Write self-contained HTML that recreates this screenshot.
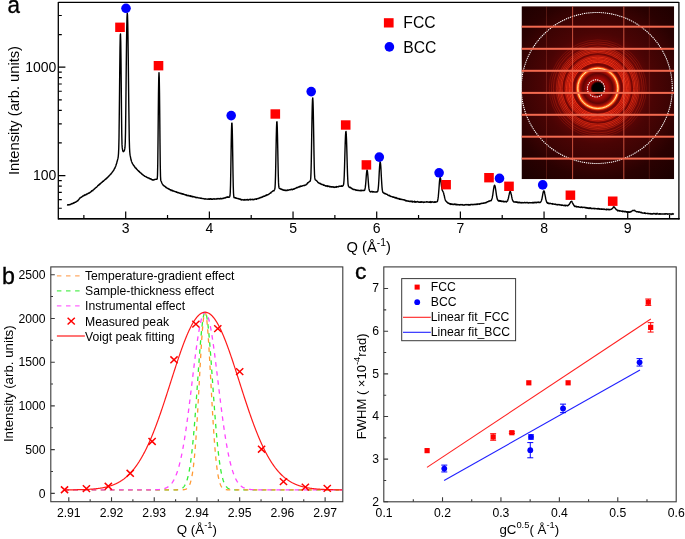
<!DOCTYPE html>
<html><head><meta charset="utf-8"><style>
html,body{margin:0;padding:0;background:#fff;overflow:hidden;width:685px;height:539px;}
svg{display:block;will-change:transform;}
</style></head><body>
<svg width="685" height="539" viewBox="0 0 685 539">
<rect width="685" height="539" fill="#fff"/>
<clipPath id="ic"><rect x="521.5" y="6.2" width="152.70000000000005" height="173.0"/></clipPath>
<radialGradient id="rg" cx="597.8" cy="88.4" r="120.0" gradientUnits="userSpaceOnUse"><stop offset="0.0000" stop-color="#000000"/><stop offset="0.0433" stop-color="#000000"/><stop offset="0.0517" stop-color="#300000"/><stop offset="0.0625" stop-color="#a00806"/><stop offset="0.0833" stop-color="#a80a06"/><stop offset="0.1042" stop-color="#840605"/><stop offset="0.1250" stop-color="#600404"/><stop offset="0.1483" stop-color="#b01208"/><stop offset="0.1583" stop-color="#ff4a10"/><stop offset="0.1675" stop-color="#fff0a0"/><stop offset="0.1758" stop-color="#ff4a10"/><stop offset="0.1858" stop-color="#900a06"/><stop offset="0.2000" stop-color="#6a0605"/><stop offset="0.2167" stop-color="#a00c08"/><stop offset="0.2750" stop-color="#900a06"/><stop offset="0.2875" stop-color="#6e0705"/><stop offset="0.3000" stop-color="#880a06"/><stop offset="0.3500" stop-color="#700806"/><stop offset="0.3917" stop-color="#5a0505"/><stop offset="0.4667" stop-color="#4a0404"/><stop offset="0.6333" stop-color="#3a0303"/><stop offset="0.7500" stop-color="#2a0101"/><stop offset="1.0000" stop-color="#1a0000"/></radialGradient>
<g clip-path="url(#ic)">
<rect x="521.5" y="6.2" width="152.70000000000005" height="173.0" fill="url(#rg)"/>
<circle cx="597.8" cy="88.4" r="26.0" fill="none" stroke="#ff3a18" stroke-opacity="0.90" stroke-width="0.9"/>
<circle cx="597.8" cy="88.4" r="27.3" fill="none" stroke="#ff3a18" stroke-opacity="0.75" stroke-width="0.9"/>
<circle cx="597.8" cy="88.4" r="28.6" fill="none" stroke="#ff3a18" stroke-opacity="0.95" stroke-width="0.9"/>
<circle cx="597.8" cy="88.4" r="30.0" fill="none" stroke="#ff3a18" stroke-opacity="0.70" stroke-width="0.9"/>
<circle cx="597.8" cy="88.4" r="31.3" fill="none" stroke="#ff3a18" stroke-opacity="0.85" stroke-width="0.9"/>
<circle cx="597.8" cy="88.4" r="32.6" fill="none" stroke="#ff3a18" stroke-opacity="0.50" stroke-width="0.9"/>
<circle cx="597.8" cy="88.4" r="35.8" fill="none" stroke="#ff3a18" stroke-opacity="0.60" stroke-width="0.9"/>
<circle cx="597.8" cy="88.4" r="37.2" fill="none" stroke="#ff3a18" stroke-opacity="0.70" stroke-width="0.9"/>
<circle cx="597.8" cy="88.4" r="38.6" fill="none" stroke="#ff3a18" stroke-opacity="0.55" stroke-width="0.9"/>
<circle cx="597.8" cy="88.4" r="40.0" fill="none" stroke="#ff3a18" stroke-opacity="0.60" stroke-width="0.9"/>
<circle cx="597.8" cy="88.4" r="41.5" fill="none" stroke="#ff3a18" stroke-opacity="0.40" stroke-width="0.9"/>
<circle cx="597.8" cy="88.4" r="44.5" fill="none" stroke="#ff3a18" stroke-opacity="0.30" stroke-width="0.9"/>
<circle cx="597.8" cy="88.4" r="46.5" fill="none" stroke="#ff3a18" stroke-opacity="0.28" stroke-width="0.9"/>
<circle cx="597.8" cy="88.4" r="48.5" fill="none" stroke="#ff3a18" stroke-opacity="0.20" stroke-width="0.9"/>
<circle cx="597.8" cy="88.4" r="20.1" fill="none" stroke="#ff6a14" stroke-width="1.8"/>
<circle cx="597.8" cy="88.4" r="20.1" fill="none" stroke="#fff2b0" stroke-width="0.9"/>
<circle cx="596" cy="88.4" r="8.6" fill="none" stroke="#fff" stroke-opacity="1" stroke-width="1.1" stroke-dasharray="1.4,0.9"/>
<circle cx="596.8" cy="88.0" r="75.5" fill="none" stroke="#fff" stroke-opacity="1" stroke-width="1.05" stroke-dasharray="1.3,0.8"/>
<rect x="521.5" y="25.7" width="152.70000000000005" height="2" fill="#f26a50"/>
<rect x="521.5" y="47.8" width="152.70000000000005" height="2" fill="#f26a50"/>
<rect x="521.5" y="69.8" width="152.70000000000005" height="2" fill="#f26a50"/>
<rect x="521.5" y="91.9" width="152.70000000000005" height="2" fill="#f26a50"/>
<rect x="521.5" y="113.8" width="152.70000000000005" height="2" fill="#f26a50"/>
<rect x="521.5" y="135.7" width="152.70000000000005" height="2" fill="#f26a50"/>
<rect x="521.5" y="157.6" width="152.70000000000005" height="2" fill="#f26a50"/>
<rect x="546.0" y="6.2" width="1" height="173.0" fill="#f26a50" fill-opacity="0.22"/>
<rect x="572.1" y="6.2" width="1" height="173.0" fill="#f26a50" fill-opacity="0.75"/>
<rect x="623.3" y="6.2" width="1" height="173.0" fill="#f26a50" fill-opacity="0.75"/>
<rect x="648.8" y="6.2" width="1" height="173.0" fill="#f26a50" fill-opacity="0.2"/>
</g>
<path d="M67.00,204.96 L67.25,205.01 L67.50,204.90 L67.75,204.77 L68.00,204.83 L68.25,204.71 L68.50,204.87 L68.75,205.06 L69.00,204.69 L69.25,204.62 L69.50,204.77 L69.75,204.69 L70.00,204.58 L70.25,204.33 L70.50,204.42 L70.75,204.48 L71.00,204.03 L71.25,204.11 L71.50,203.76 L71.75,203.78 L72.00,203.58 L72.25,203.77 L72.50,203.48 L72.75,203.65 L73.00,203.51 L73.25,203.34 L73.50,202.80 L73.75,203.03 L74.00,202.99 L74.25,202.89 L74.50,202.46 L74.75,202.51 L75.00,202.28 L75.25,202.17 L75.50,202.36 L75.75,201.88 L76.00,201.86 L76.25,201.88 L76.50,201.45 L76.75,201.38 L77.00,201.26 L77.25,201.09 L77.50,200.69 L77.75,200.74 L78.00,200.71 L78.25,199.86 L78.50,199.94 L78.75,199.44 L79.00,198.94 L79.25,199.10 L79.50,198.62 L79.75,198.06 L80.00,198.08 L80.25,197.97 L80.50,197.64 L80.75,197.61 L81.00,197.30 L81.25,197.26 L81.50,197.23 L81.75,196.68 L82.00,196.68 L82.25,196.41 L82.50,196.37 L82.75,195.99 L83.00,195.95 L83.25,195.89 L83.50,195.95 L83.75,195.86 L84.00,195.29 L84.25,195.26 L84.50,195.39 L84.75,194.79 L85.00,194.94 L85.25,194.89 L85.50,195.01 L85.75,194.79 L86.00,194.49 L86.25,194.36 L86.50,194.26 L86.75,194.46 L87.00,193.98 L87.25,193.88 L87.50,193.88 L87.75,193.66 L88.00,193.52 L88.25,193.22 L88.50,193.28 L88.75,193.07 L89.00,193.22 L89.25,192.98 L89.50,192.70 L89.75,192.67 L90.00,192.33 L90.25,192.42 L90.50,192.06 L90.75,191.99 L91.00,191.48 L91.25,191.59 L91.50,191.04 L91.75,190.78 L92.00,190.90 L92.25,190.60 L92.50,190.59 L92.75,190.76 L93.00,190.01 L93.25,189.84 L93.50,189.78 L93.75,189.62 L94.00,189.28 L94.25,189.06 L94.50,189.01 L94.75,188.76 L95.00,188.26 L95.25,188.21 L95.50,188.00 L95.75,187.58 L96.00,187.59 L96.25,187.16 L96.50,187.27 L96.75,186.90 L97.00,186.65 L97.25,186.30 L97.50,186.15 L97.75,185.59 L98.00,185.51 L98.25,185.55 L98.50,184.88 L98.75,185.18 L99.00,184.49 L99.25,184.71 L99.50,184.20 L99.75,184.27 L100.00,183.93 L100.25,183.41 L100.50,183.69 L100.75,183.50 L101.00,183.01 L101.25,182.76 L101.50,182.57 L101.75,182.21 L102.00,182.38 L102.25,181.87 L102.50,181.76 L102.75,181.42 L103.00,181.24 L103.25,180.92 L103.50,181.18 L103.75,180.72 L104.00,180.72 L104.25,180.34 L104.50,180.01 L104.75,179.87 L105.00,179.62 L105.25,179.51 L105.50,179.23 L105.75,179.03 L106.00,178.62 L106.25,178.51 L106.50,178.73 L106.75,178.09 L107.00,177.79 L107.25,177.81 L107.50,177.77 L107.75,177.01 L108.00,177.00 L108.25,176.67 L108.50,176.21 L108.75,176.40 L109.00,176.00 L109.25,175.75 L109.50,175.33 L109.75,175.28 L110.00,174.82 L110.25,174.62 L110.50,174.17 L110.75,173.86 L111.00,174.03 L111.25,173.41 L111.50,173.25 L111.75,172.88 L112.00,172.49 L112.25,172.15 L112.50,172.01 L112.75,171.49 L113.00,171.15 L113.25,170.81 L113.50,170.62 L113.75,170.12 L114.00,169.64 L114.25,169.03 L114.50,168.42 L114.75,168.36 L115.00,167.85 L115.25,167.09 L115.50,166.61 L115.75,166.00 L116.00,165.32 L116.25,164.60 L116.50,163.56 L116.75,163.08 L117.00,161.70 L117.25,161.15 L117.50,160.10 L117.75,159.14 L118.00,158.15 L118.25,156.52 L118.50,153.61 L118.75,148.21 L119.00,137.73 L119.25,117.56 L119.50,95.00 L119.75,69.63 L120.00,48.17 L120.25,35.68 L120.50,33.86 L120.75,42.02 L121.00,59.95 L121.25,85.44 L121.50,112.65 L121.75,133.42 L122.00,144.13 L122.25,147.90 L122.50,149.41 L122.75,150.76 L123.00,151.31 L123.25,151.75 L123.50,151.55 L123.75,151.45 L124.00,151.06 L124.25,150.60 L124.50,150.14 L124.75,148.95 L125.00,147.19 L125.25,142.62 L125.50,132.81 L125.75,114.43 L126.00,91.34 L126.25,66.63 L126.50,44.96 L126.75,27.98 L127.00,17.39 L127.25,13.20 L127.50,15.12 L127.75,23.61 L128.00,38.02 L128.25,57.87 L128.50,80.44 L128.75,102.40 L129.00,120.04 L129.25,138.28 L129.50,147.19 L129.75,151.95 L130.00,154.54 L130.25,155.93 L130.50,157.10 L130.75,158.35 L131.00,159.78 L131.25,160.53 L131.50,161.29 L131.75,161.93 L132.00,162.53 L132.25,163.20 L132.50,163.65 L132.75,164.05 L133.00,164.25 L133.25,164.93 L133.50,165.09 L133.75,165.76 L134.00,165.67 L134.25,166.20 L134.50,166.54 L134.75,166.62 L135.00,167.48 L135.25,167.74 L135.50,167.70 L135.75,168.22 L136.00,168.44 L136.25,168.19 L136.50,168.98 L136.75,169.19 L137.00,169.48 L137.25,169.53 L137.50,169.93 L137.75,170.20 L138.00,170.68 L138.25,170.77 L138.50,170.94 L138.75,171.45 L139.00,171.31 L139.25,171.56 L139.50,171.53 L139.75,172.36 L140.00,172.48 L140.25,172.69 L140.50,172.86 L140.75,172.98 L141.00,173.22 L141.25,173.36 L141.50,173.59 L141.75,173.85 L142.00,174.33 L142.25,174.37 L142.50,174.47 L142.75,174.59 L143.00,174.78 L143.25,175.38 L143.50,175.38 L143.75,175.49 L144.00,175.59 L144.25,175.63 L144.50,175.99 L144.75,176.31 L145.00,176.24 L145.25,176.41 L145.50,176.55 L145.75,176.74 L146.00,176.57 L146.25,176.94 L146.50,176.95 L146.75,177.38 L147.00,177.19 L147.25,177.55 L147.50,177.83 L147.75,177.61 L148.00,177.66 L148.25,177.91 L148.50,177.98 L148.75,177.90 L149.00,178.27 L149.25,178.65 L149.50,178.35 L149.75,178.47 L150.00,178.44 L150.25,178.81 L150.50,178.65 L150.75,178.80 L151.00,179.35 L151.25,179.08 L151.50,179.55 L151.75,179.74 L152.00,179.61 L152.25,179.76 L152.50,180.08 L152.75,179.76 L153.00,179.74 L153.25,179.63 L153.50,179.89 L153.75,180.14 L154.00,180.00 L154.25,179.59 L154.50,179.53 L154.75,179.50 L155.00,179.55 L155.25,179.37 L155.50,179.37 L155.75,179.32 L156.00,179.18 L156.25,179.21 L156.50,179.26 L156.75,179.21 L157.00,179.23 L157.25,178.77 L157.50,175.20 L157.75,164.38 L158.00,142.82 L158.25,116.68 L158.50,92.84 L158.75,77.55 L159.00,72.58 L159.25,77.66 L159.50,92.67 L159.75,115.72 L160.00,142.70 L160.25,164.51 L160.50,176.12 L160.75,180.21 L161.00,181.01 L161.25,181.48 L161.50,182.02 L161.75,182.83 L162.00,183.37 L162.25,183.64 L162.50,184.20 L162.75,184.29 L163.00,184.99 L163.25,185.25 L163.50,185.51 L163.75,185.48 L164.00,185.89 L164.25,185.99 L164.50,186.15 L164.75,186.36 L165.00,186.38 L165.25,186.55 L165.50,187.13 L165.75,187.14 L166.00,187.38 L166.25,187.70 L166.50,187.37 L166.75,187.70 L167.00,188.03 L167.25,188.23 L167.50,188.24 L167.75,188.64 L168.00,188.63 L168.25,188.52 L168.50,188.70 L168.75,189.15 L169.00,189.22 L169.25,188.92 L169.50,189.63 L169.75,189.62 L170.00,189.87 L170.25,189.67 L170.50,189.80 L170.75,189.77 L171.00,190.54 L171.25,190.16 L171.50,190.58 L171.75,190.28 L172.00,190.53 L172.25,190.30 L172.50,190.63 L172.75,190.98 L173.00,190.67 L173.25,191.18 L173.50,191.14 L173.75,190.99 L174.00,191.18 L174.25,191.27 L174.50,191.44 L174.75,191.43 L175.00,191.47 L175.25,191.65 L175.50,191.60 L175.75,191.64 L176.00,191.94 L176.25,192.19 L176.50,191.84 L176.75,192.20 L177.00,192.16 L177.25,192.18 L177.50,192.59 L177.75,192.42 L178.00,192.86 L178.25,192.53 L178.50,192.81 L178.75,192.78 L179.00,192.76 L179.25,193.08 L179.50,193.02 L179.75,193.24 L180.00,193.20 L180.25,193.09 L180.50,193.34 L180.75,193.44 L181.00,193.68 L181.25,193.42 L181.50,193.66 L181.75,193.43 L182.00,193.93 L182.25,193.70 L182.50,193.64 L182.75,194.03 L183.00,194.32 L183.25,193.92 L183.50,194.07 L183.75,194.21 L184.00,194.21 L184.25,194.56 L184.50,194.42 L184.75,194.50 L185.00,194.81 L185.25,194.64 L185.50,194.93 L185.75,194.75 L186.00,194.78 L186.25,194.74 L186.50,195.47 L186.75,195.15 L187.00,195.32 L187.25,195.34 L187.50,195.44 L187.75,195.49 L188.00,195.89 L188.25,195.43 L188.50,195.40 L188.75,195.56 L189.00,195.57 L189.25,196.01 L189.50,196.09 L189.75,195.83 L190.00,195.81 L190.25,196.06 L190.50,196.44 L190.75,195.74 L191.00,196.40 L191.25,196.17 L191.50,196.61 L191.75,196.29 L192.00,196.49 L192.25,196.32 L192.50,196.47 L192.75,196.95 L193.00,196.90 L193.25,196.74 L193.50,196.70 L193.75,196.57 L194.00,196.89 L194.25,197.00 L194.50,197.04 L194.75,197.09 L195.00,196.96 L195.25,197.20 L195.50,197.25 L195.75,197.54 L196.00,197.70 L196.25,197.39 L196.50,197.33 L196.75,197.51 L197.00,197.46 L197.25,197.49 L197.50,197.66 L197.75,197.54 L198.00,197.89 L198.25,197.81 L198.50,197.93 L198.75,197.90 L199.00,197.85 L199.25,197.86 L199.50,198.04 L199.75,198.03 L200.00,198.22 L200.25,198.23 L200.50,198.03 L200.75,198.34 L201.00,198.13 L201.25,198.30 L201.50,198.40 L201.75,198.13 L202.00,198.56 L202.25,198.61 L202.50,198.60 L202.75,198.59 L203.00,198.63 L203.25,198.56 L203.50,198.72 L203.75,198.70 L204.00,198.85 L204.25,198.65 L204.50,198.94 L204.75,198.95 L205.00,198.92 L205.25,198.89 L205.50,199.09 L205.75,198.71 L206.00,199.11 L206.25,199.09 L206.50,199.11 L206.75,199.14 L207.00,198.97 L207.25,199.05 L207.50,199.21 L207.75,199.18 L208.00,199.14 L208.25,198.83 L208.50,199.20 L208.75,199.31 L209.00,199.28 L209.25,199.14 L209.50,198.82 L209.75,199.26 L210.00,199.06 L210.25,198.63 L210.50,199.15 L210.75,198.81 L211.00,198.84 L211.25,198.96 L211.50,199.30 L211.75,198.99 L212.00,199.10 L212.25,199.36 L212.50,199.33 L212.75,199.02 L213.00,198.99 L213.25,198.80 L213.50,198.89 L213.75,199.08 L214.00,199.07 L214.25,199.01 L214.50,199.16 L214.75,198.84 L215.00,198.96 L215.25,199.09 L215.50,199.05 L215.75,199.13 L216.00,199.00 L216.25,198.86 L216.50,198.97 L216.75,198.71 L217.00,198.59 L217.25,198.98 L217.50,198.85 L217.75,198.90 L218.00,198.53 L218.25,198.76 L218.50,198.70 L218.75,198.64 L219.00,198.38 L219.25,198.71 L219.50,198.92 L219.75,198.82 L220.00,198.62 L220.25,198.72 L220.50,198.84 L220.75,198.18 L221.00,198.63 L221.25,198.72 L221.50,198.71 L221.75,198.85 L222.00,198.70 L222.25,198.50 L222.50,198.44 L222.75,198.47 L223.00,198.18 L223.25,198.20 L223.50,198.31 L223.75,198.43 L224.00,197.99 L224.25,197.94 L224.50,197.92 L224.75,198.05 L225.00,197.74 L225.25,197.94 L225.50,197.44 L225.75,197.51 L226.00,197.45 L226.25,197.56 L226.50,197.55 L226.75,197.03 L227.00,197.09 L227.25,197.26 L227.50,197.04 L227.75,196.84 L228.00,197.27 L228.25,197.14 L228.50,197.11 L228.75,196.92 L229.00,197.17 L229.25,196.93 L229.50,197.11 L229.75,196.49 L230.00,195.51 L230.25,192.69 L230.50,185.43 L230.75,173.31 L231.00,157.34 L231.25,141.52 L231.50,129.70 L231.75,123.15 L232.00,123.25 L232.25,129.22 L232.50,141.10 L232.75,156.98 L233.00,173.22 L233.25,185.89 L233.50,192.98 L233.75,196.24 L234.00,197.59 L234.25,197.62 L234.50,197.57 L234.75,197.83 L235.00,197.94 L235.25,197.76 L235.50,197.67 L235.75,197.76 L236.00,198.20 L236.25,198.01 L236.50,198.18 L236.75,198.31 L237.00,198.45 L237.25,198.34 L237.50,198.56 L237.75,198.38 L238.00,198.54 L238.25,198.49 L238.50,198.95 L238.75,198.81 L239.00,198.75 L239.25,198.89 L239.50,198.98 L239.75,199.21 L240.00,198.86 L240.25,199.02 L240.50,199.21 L240.75,199.79 L241.00,199.56 L241.25,199.43 L241.50,199.63 L241.75,199.92 L242.00,199.56 L242.25,199.58 L242.50,199.90 L242.75,199.81 L243.00,199.88 L243.25,199.70 L243.50,200.16 L243.75,200.15 L244.00,199.96 L244.25,200.00 L244.50,199.52 L244.75,200.00 L245.00,199.85 L245.25,199.96 L245.50,200.00 L245.75,199.82 L246.00,199.57 L246.25,199.93 L246.50,199.73 L246.75,199.80 L247.00,199.74 L247.25,199.78 L247.50,199.41 L247.75,200.04 L248.00,199.86 L248.25,200.00 L248.50,200.14 L248.75,199.78 L249.00,199.43 L249.25,199.58 L249.50,199.51 L249.75,199.62 L250.00,199.71 L250.25,199.32 L250.50,199.73 L250.75,199.38 L251.00,199.68 L251.25,199.59 L251.50,199.53 L251.75,199.56 L252.00,199.45 L252.25,199.42 L252.50,199.21 L252.75,199.48 L253.00,199.80 L253.25,199.80 L253.50,199.66 L253.75,199.53 L254.00,199.25 L254.25,199.60 L254.50,199.29 L254.75,199.25 L255.00,199.17 L255.25,199.19 L255.50,199.05 L255.75,199.06 L256.00,198.82 L256.25,198.89 L256.50,199.30 L256.75,198.81 L257.00,198.71 L257.25,198.78 L257.50,198.74 L257.75,198.34 L258.00,198.42 L258.25,198.55 L258.50,198.35 L258.75,198.24 L259.00,198.42 L259.25,197.93 L259.50,197.98 L259.75,197.79 L260.00,198.06 L260.25,197.35 L260.50,197.50 L260.75,197.43 L261.00,197.56 L261.25,197.46 L261.50,197.51 L261.75,196.89 L262.00,197.22 L262.25,196.94 L262.50,196.79 L262.75,196.92 L263.00,196.57 L263.25,196.26 L263.50,196.48 L263.75,196.18 L264.00,196.24 L264.25,196.32 L264.50,196.21 L264.75,196.34 L265.00,195.91 L265.25,195.56 L265.50,195.60 L265.75,195.46 L266.00,195.29 L266.25,195.48 L266.50,195.16 L266.75,194.81 L267.00,195.17 L267.25,194.90 L267.50,194.86 L267.75,194.69 L268.00,194.65 L268.25,194.41 L268.50,194.50 L268.75,194.21 L269.00,194.07 L269.25,193.93 L269.50,193.45 L269.75,193.52 L270.00,193.32 L270.25,193.22 L270.50,192.74 L270.75,193.08 L271.00,192.60 L271.25,192.15 L271.50,191.85 L271.75,191.89 L272.00,191.72 L272.25,191.40 L272.50,191.35 L272.75,191.03 L273.00,191.07 L273.25,190.68 L273.50,190.65 L273.75,190.70 L274.00,190.85 L274.25,190.04 L274.50,189.87 L274.75,189.19 L275.00,187.87 L275.25,183.70 L275.50,176.34 L275.75,164.97 L276.00,151.10 L276.25,138.00 L276.50,127.99 L276.75,122.10 L277.00,121.78 L277.25,126.73 L277.50,136.22 L277.75,148.80 L278.00,162.11 L278.25,174.06 L278.50,182.14 L278.75,186.17 L279.00,187.73 L279.25,188.16 L279.50,188.62 L279.75,188.48 L280.00,188.43 L280.25,188.57 L280.50,189.05 L280.75,188.91 L281.00,189.17 L281.25,188.98 L281.50,189.33 L281.75,189.16 L282.00,189.35 L282.25,189.94 L282.50,189.73 L282.75,189.61 L283.00,189.79 L283.25,189.96 L283.50,190.20 L283.75,189.98 L284.00,189.82 L284.25,190.14 L284.50,190.24 L284.75,190.29 L285.00,190.52 L285.25,190.34 L285.50,190.43 L285.75,190.08 L286.00,190.42 L286.25,190.63 L286.50,190.38 L286.75,190.26 L287.00,190.22 L287.25,190.49 L287.50,189.98 L287.75,190.10 L288.00,190.17 L288.25,190.19 L288.50,189.94 L288.75,190.04 L289.00,189.90 L289.25,189.93 L289.50,189.84 L289.75,189.62 L290.00,189.78 L290.25,189.90 L290.50,189.52 L290.75,189.60 L291.00,189.72 L291.25,189.36 L291.50,189.54 L291.75,189.27 L292.00,189.62 L292.25,189.78 L292.50,189.68 L292.75,189.22 L293.00,189.32 L293.25,189.14 L293.50,189.06 L293.75,189.25 L294.00,188.65 L294.25,188.99 L294.50,188.70 L294.75,188.87 L295.00,188.55 L295.25,188.30 L295.50,188.37 L295.75,188.35 L296.00,188.12 L296.25,188.09 L296.50,187.80 L296.75,187.41 L297.00,187.85 L297.25,187.70 L297.50,187.50 L297.75,187.38 L298.00,187.45 L298.25,187.08 L298.50,186.94 L298.75,186.93 L299.00,187.08 L299.25,186.53 L299.50,186.90 L299.75,186.49 L300.00,186.32 L300.25,186.67 L300.50,186.35 L300.75,186.07 L301.00,186.17 L301.25,186.34 L301.50,186.32 L301.75,185.97 L302.00,186.06 L302.25,186.06 L302.50,185.76 L302.75,185.88 L303.00,185.74 L303.25,185.59 L303.50,185.53 L303.75,185.56 L304.00,185.48 L304.25,185.29 L304.50,185.24 L304.75,185.42 L305.00,185.17 L305.25,185.18 L305.50,185.13 L305.75,184.87 L306.00,185.00 L306.25,184.25 L306.50,184.34 L306.75,183.91 L307.00,184.06 L307.25,183.79 L307.50,182.89 L307.75,182.82 L308.00,182.87 L308.25,182.65 L308.50,182.42 L308.75,182.06 L309.00,181.96 L309.25,181.83 L309.50,181.55 L309.75,181.62 L310.00,180.85 L310.25,181.04 L310.50,179.90 L310.75,178.03 L311.00,172.65 L311.25,162.91 L311.50,149.17 L311.75,132.97 L312.00,118.02 L312.25,106.26 L312.50,99.54 L312.75,97.89 L313.00,101.61 L313.25,110.11 L313.50,123.28 L313.75,138.60 L314.00,154.00 L314.25,166.45 L314.50,174.20 L314.75,177.66 L315.00,179.11 L315.25,179.64 L315.50,179.90 L315.75,179.88 L316.00,180.41 L316.25,180.35 L316.50,180.73 L316.75,180.74 L317.00,181.21 L317.25,181.48 L317.50,181.61 L317.75,182.32 L318.00,182.29 L318.25,182.80 L318.50,182.89 L318.75,182.81 L319.00,183.05 L319.25,183.35 L319.50,183.42 L319.75,183.54 L320.00,183.60 L320.25,183.45 L320.50,183.85 L320.75,183.61 L321.00,184.19 L321.25,184.10 L321.50,184.21 L321.75,184.41 L322.00,184.60 L322.25,184.39 L322.50,184.43 L322.75,184.65 L323.00,184.56 L323.25,184.84 L323.50,185.39 L323.75,185.00 L324.00,185.38 L324.25,185.10 L324.50,185.47 L324.75,185.43 L325.00,185.55 L325.25,185.73 L325.50,186.00 L325.75,185.78 L326.00,185.83 L326.25,185.68 L326.50,186.02 L326.75,185.92 L327.00,186.17 L327.25,186.06 L327.50,186.43 L327.75,185.82 L328.00,186.17 L328.25,186.43 L328.50,186.26 L328.75,186.23 L329.00,186.38 L329.25,186.22 L329.50,186.54 L329.75,187.00 L330.00,186.82 L330.25,186.45 L330.50,186.54 L330.75,186.66 L331.00,186.96 L331.25,186.67 L331.50,186.73 L331.75,187.04 L332.00,187.07 L332.25,186.88 L332.50,186.77 L332.75,186.72 L333.00,186.90 L333.25,186.64 L333.50,187.20 L333.75,186.97 L334.00,187.18 L334.25,187.44 L334.50,187.32 L334.75,186.91 L335.00,187.27 L335.25,187.32 L335.50,186.97 L335.75,186.91 L336.00,187.04 L336.25,186.74 L336.50,187.26 L336.75,186.53 L337.00,186.72 L337.25,186.82 L337.50,186.78 L337.75,186.80 L338.00,186.76 L338.25,186.62 L338.50,186.80 L338.75,186.16 L339.00,186.48 L339.25,186.29 L339.50,186.39 L339.75,186.35 L340.00,186.09 L340.25,186.08 L340.50,186.29 L340.75,186.16 L341.00,185.93 L341.25,186.38 L341.50,186.39 L341.75,185.68 L342.00,185.97 L342.25,186.34 L342.50,186.01 L342.75,185.87 L343.00,185.70 L343.25,185.39 L343.50,184.80 L343.75,183.27 L344.00,180.60 L344.25,175.44 L344.50,168.25 L344.75,159.30 L345.00,150.26 L345.25,141.76 L345.50,135.52 L345.75,132.09 L346.00,131.39 L346.25,133.97 L346.50,139.39 L346.75,147.11 L347.00,156.22 L347.25,165.45 L347.50,173.69 L347.75,179.33 L348.00,183.53 L348.25,185.35 L348.50,186.21 L348.75,186.72 L349.00,186.90 L349.25,187.17 L349.50,187.13 L349.75,187.58 L350.00,187.36 L350.25,187.22 L350.50,187.64 L350.75,187.56 L351.00,188.07 L351.25,188.41 L351.50,188.48 L351.75,188.26 L352.00,188.50 L352.25,189.07 L352.50,188.91 L352.75,188.94 L353.00,189.22 L353.25,189.56 L353.50,189.44 L353.75,189.32 L354.00,189.44 L354.25,189.57 L354.50,189.44 L354.75,189.44 L355.00,189.72 L355.25,189.62 L355.50,189.86 L355.75,189.97 L356.00,190.44 L356.25,189.94 L356.50,190.14 L356.75,190.19 L357.00,190.36 L357.25,190.53 L357.50,190.30 L357.75,190.29 L358.00,190.18 L358.25,190.35 L358.50,190.64 L358.75,190.58 L359.00,190.41 L359.25,190.54 L359.50,190.61 L359.75,190.70 L360.00,190.50 L360.25,190.56 L360.50,190.28 L360.75,190.40 L361.00,190.90 L361.25,190.22 L361.50,190.55 L361.75,190.65 L362.00,190.54 L362.25,190.46 L362.50,190.60 L362.75,190.61 L363.00,190.59 L363.25,190.27 L363.50,190.57 L363.75,190.43 L364.00,190.44 L364.25,190.47 L364.50,190.31 L364.75,189.89 L365.00,188.80 L365.25,187.68 L365.50,185.69 L365.75,182.98 L366.00,179.86 L366.25,176.30 L366.50,173.35 L366.75,171.37 L367.00,169.92 L367.25,170.42 L367.50,171.76 L367.75,174.30 L368.00,177.25 L368.25,180.81 L368.50,184.16 L368.75,186.97 L369.00,188.94 L369.25,190.05 L369.50,190.81 L369.75,191.13 L370.00,191.58 L370.25,191.57 L370.50,191.78 L370.75,192.01 L371.00,191.71 L371.25,191.46 L371.50,191.59 L371.75,191.50 L372.00,191.55 L372.25,192.02 L372.50,191.83 L372.75,191.53 L373.00,191.93 L373.25,192.04 L373.50,191.76 L373.75,191.71 L374.00,191.78 L374.25,191.90 L374.50,191.97 L374.75,192.08 L375.00,192.10 L375.25,192.10 L375.50,192.14 L375.75,192.03 L376.00,191.65 L376.25,191.91 L376.50,192.00 L376.75,191.87 L377.00,192.07 L377.25,191.74 L377.50,191.39 L377.75,191.27 L378.00,190.10 L378.25,188.24 L378.50,185.65 L378.75,181.96 L379.00,177.36 L379.25,172.11 L379.50,167.99 L379.75,164.51 L380.00,162.26 L380.25,161.96 L380.50,163.34 L380.75,165.81 L381.00,169.68 L381.25,174.95 L381.50,179.29 L381.75,183.46 L382.00,187.15 L382.25,189.62 L382.50,190.97 L382.75,192.13 L383.00,192.39 L383.25,192.57 L383.50,192.91 L383.75,193.12 L384.00,192.96 L384.25,193.22 L384.50,193.23 L384.75,193.85 L385.00,193.32 L385.25,193.80 L385.50,193.65 L385.75,193.76 L386.00,194.03 L386.25,194.18 L386.50,194.38 L386.75,194.33 L387.00,194.30 L387.25,194.44 L387.50,194.76 L387.75,194.91 L388.00,195.19 L388.25,195.15 L388.50,195.39 L388.75,195.60 L389.00,195.49 L389.25,195.32 L389.50,195.50 L389.75,195.57 L390.00,196.23 L390.25,195.90 L390.50,196.38 L390.75,196.36 L391.00,196.66 L391.25,196.62 L391.50,196.51 L391.75,196.58 L392.00,196.71 L392.25,196.81 L392.50,196.77 L392.75,196.94 L393.00,197.32 L393.25,196.80 L393.50,197.23 L393.75,197.10 L394.00,197.37 L394.25,197.57 L394.50,197.48 L394.75,197.70 L395.00,197.35 L395.25,197.91 L395.50,197.68 L395.75,197.97 L396.00,197.96 L396.25,197.53 L396.50,197.93 L396.75,198.17 L397.00,198.48 L397.25,198.32 L397.50,198.39 L397.75,198.15 L398.00,198.73 L398.25,198.87 L398.50,198.61 L398.75,198.63 L399.00,198.45 L399.25,198.96 L399.50,199.35 L399.75,199.06 L400.00,199.23 L400.25,199.16 L400.50,198.95 L400.75,199.43 L401.00,199.03 L401.25,199.28 L401.50,199.44 L401.75,199.61 L402.00,199.59 L402.25,199.66 L402.50,199.52 L402.75,199.49 L403.00,199.81 L403.25,199.74 L403.50,199.70 L403.75,199.78 L404.00,200.00 L404.25,199.82 L404.50,199.99 L404.75,200.01 L405.00,200.41 L405.25,200.52 L405.50,200.87 L405.75,200.31 L406.00,200.53 L406.25,200.88 L406.50,200.74 L406.75,200.78 L407.00,201.21 L407.25,200.90 L407.50,200.81 L407.75,200.83 L408.00,201.18 L408.25,201.22 L408.50,200.97 L408.75,201.08 L409.00,201.39 L409.25,201.43 L409.50,201.24 L409.75,201.50 L410.00,201.51 L410.25,201.11 L410.50,201.39 L410.75,201.54 L411.00,201.39 L411.25,201.12 L411.50,201.48 L411.75,201.68 L412.00,201.85 L412.25,201.19 L412.50,202.07 L412.75,201.42 L413.00,201.81 L413.25,201.88 L413.50,201.85 L413.75,201.72 L414.00,201.50 L414.25,201.84 L414.50,201.61 L414.75,201.30 L415.00,202.28 L415.25,201.91 L415.50,202.13 L415.75,201.65 L416.00,202.09 L416.25,202.13 L416.50,202.13 L416.75,201.86 L417.00,201.66 L417.25,201.86 L417.50,201.51 L417.75,201.61 L418.00,201.94 L418.25,201.76 L418.50,201.92 L418.75,201.94 L419.00,202.31 L419.25,202.21 L419.50,201.98 L419.75,202.21 L420.00,201.86 L420.25,201.95 L420.50,202.18 L420.75,201.80 L421.00,201.98 L421.25,201.80 L421.50,202.06 L421.75,202.34 L422.00,201.91 L422.25,202.09 L422.50,201.89 L422.75,201.85 L423.00,201.84 L423.25,202.32 L423.50,202.49 L423.75,202.15 L424.00,201.93 L424.25,202.19 L424.50,202.00 L424.75,202.21 L425.00,202.12 L425.25,202.11 L425.50,202.17 L425.75,201.96 L426.00,201.99 L426.25,201.75 L426.50,201.98 L426.75,201.81 L427.00,202.04 L427.25,201.89 L427.50,202.08 L427.75,202.14 L428.00,201.81 L428.25,201.92 L428.50,201.89 L428.75,202.20 L429.00,202.37 L429.25,202.22 L429.50,202.00 L429.75,202.33 L430.00,201.79 L430.25,202.33 L430.50,201.95 L430.75,201.56 L431.00,202.54 L431.25,202.35 L431.50,201.88 L431.75,202.09 L432.00,202.02 L432.25,202.08 L432.50,201.80 L432.75,201.94 L433.00,202.15 L433.25,202.10 L433.50,202.28 L433.75,202.08 L434.00,202.49 L434.25,201.93 L434.50,202.11 L434.75,201.72 L435.00,201.84 L435.25,202.30 L435.50,201.89 L435.75,202.16 L436.00,202.05 L436.25,201.86 L436.50,201.95 L436.75,201.86 L437.00,201.73 L437.25,201.68 L437.50,201.16 L437.75,200.08 L438.00,198.66 L438.25,196.91 L438.50,194.24 L438.75,191.32 L439.00,188.20 L439.25,184.51 L439.50,181.40 L439.75,179.14 L440.00,177.72 L440.25,177.45 L440.50,178.14 L440.75,179.77 L441.00,181.81 L441.25,184.26 L441.50,186.16 L441.75,187.93 L442.00,189.01 L442.25,190.36 L442.50,190.69 L442.75,191.33 L443.00,191.59 L443.25,192.26 L443.50,192.67 L443.75,193.72 L444.00,195.09 L444.25,195.47 L444.50,196.99 L444.75,198.13 L445.00,198.85 L445.25,199.73 L445.50,200.50 L445.75,200.68 L446.00,201.28 L446.25,201.37 L446.50,201.66 L446.75,201.89 L447.00,202.17 L447.25,202.39 L447.50,202.61 L447.75,202.43 L448.00,203.21 L448.25,203.21 L448.50,203.29 L448.75,203.24 L449.00,203.43 L449.25,203.67 L449.50,203.76 L449.75,203.47 L450.00,203.99 L450.25,204.45 L450.50,203.60 L450.75,204.15 L451.00,204.07 L451.25,204.01 L451.50,204.31 L451.75,203.87 L452.00,204.14 L452.25,204.41 L452.50,204.13 L452.75,204.11 L453.00,204.24 L453.25,204.16 L453.50,204.55 L453.75,204.12 L454.00,204.48 L454.25,204.11 L454.50,204.48 L454.75,204.36 L455.00,203.93 L455.25,204.42 L455.50,204.25 L455.75,204.38 L456.00,204.77 L456.25,204.30 L456.50,204.33 L456.75,204.81 L457.00,204.58 L457.25,204.86 L457.50,204.65 L457.75,204.44 L458.00,204.61 L458.25,204.87 L458.50,204.83 L458.75,204.67 L459.00,204.69 L459.25,204.67 L459.50,204.60 L459.75,205.08 L460.00,204.73 L460.25,204.53 L460.50,204.67 L460.75,204.90 L461.00,204.89 L461.25,204.76 L461.50,204.67 L461.75,204.80 L462.00,204.50 L462.25,204.57 L462.50,204.97 L462.75,204.74 L463.00,204.90 L463.25,205.07 L463.50,204.97 L463.75,204.85 L464.00,205.25 L464.25,204.98 L464.50,204.80 L464.75,205.00 L465.00,204.94 L465.25,204.71 L465.50,204.88 L465.75,204.84 L466.00,204.51 L466.25,204.84 L466.50,204.82 L466.75,204.79 L467.00,204.56 L467.25,204.80 L467.50,204.85 L467.75,204.87 L468.00,204.64 L468.25,204.96 L468.50,204.61 L468.75,204.78 L469.00,205.05 L469.25,204.67 L469.50,204.70 L469.75,204.98 L470.00,204.69 L470.25,204.70 L470.50,204.78 L470.75,204.92 L471.00,204.30 L471.25,204.54 L471.50,204.49 L471.75,204.46 L472.00,204.48 L472.25,204.46 L472.50,204.66 L472.75,204.42 L473.00,204.58 L473.25,204.61 L473.50,204.38 L473.75,204.52 L474.00,204.77 L474.25,204.50 L474.50,204.30 L474.75,204.38 L475.00,204.20 L475.25,204.39 L475.50,204.48 L475.75,204.14 L476.00,204.22 L476.25,204.44 L476.50,204.11 L476.75,204.21 L477.00,203.96 L477.25,203.97 L477.50,203.99 L477.75,204.45 L478.00,203.95 L478.25,203.90 L478.50,203.86 L478.75,203.90 L479.00,204.01 L479.25,203.89 L479.50,204.20 L479.75,203.83 L480.00,204.02 L480.25,203.77 L480.50,203.80 L480.75,203.39 L481.00,203.60 L481.25,203.57 L481.50,203.50 L481.75,203.12 L482.00,203.63 L482.25,203.37 L482.50,203.32 L482.75,203.32 L483.00,203.28 L483.25,203.36 L483.50,203.02 L483.75,203.04 L484.00,203.22 L484.25,203.13 L484.50,202.98 L484.75,202.87 L485.00,202.75 L485.25,202.81 L485.50,202.95 L485.75,202.45 L486.00,202.82 L486.25,202.60 L486.50,202.27 L486.75,202.39 L487.00,201.89 L487.25,201.74 L487.50,201.72 L487.75,201.78 L488.00,201.69 L488.25,201.56 L488.50,201.58 L488.75,201.09 L489.00,201.48 L489.25,201.05 L489.50,201.11 L489.75,201.08 L490.00,200.87 L490.25,200.76 L490.50,200.74 L490.75,200.80 L491.00,200.75 L491.25,200.51 L491.50,199.87 L491.75,199.39 L492.00,198.63 L492.25,197.88 L492.50,196.16 L492.75,195.22 L493.00,193.17 L493.25,191.28 L493.50,189.67 L493.75,188.13 L494.00,186.64 L494.25,185.81 L494.50,185.18 L494.75,185.44 L495.00,186.03 L495.25,186.85 L495.50,188.57 L495.75,190.05 L496.00,191.88 L496.25,193.52 L496.50,195.32 L496.75,196.99 L497.00,197.82 L497.25,199.11 L497.50,199.74 L497.75,200.20 L498.00,200.07 L498.25,200.65 L498.50,200.91 L498.75,200.74 L499.00,200.94 L499.25,200.53 L499.50,201.11 L499.75,200.89 L500.00,201.19 L500.25,200.73 L500.50,201.21 L500.75,201.07 L501.00,201.28 L501.25,201.00 L501.50,201.08 L501.75,201.63 L502.00,201.11 L502.25,201.16 L502.50,201.27 L502.75,201.17 L503.00,201.60 L503.25,201.72 L503.50,201.32 L503.75,201.17 L504.00,201.72 L504.25,201.74 L504.50,201.72 L504.75,201.81 L505.00,201.47 L505.25,201.62 L505.50,201.42 L505.75,201.43 L506.00,201.87 L506.25,201.55 L506.50,202.04 L506.75,201.55 L507.00,201.26 L507.25,201.27 L507.50,201.06 L507.75,200.29 L508.00,199.27 L508.25,198.66 L508.50,197.79 L508.75,196.28 L509.00,195.02 L509.25,194.17 L509.50,192.99 L509.75,191.99 L510.00,191.65 L510.25,191.46 L510.50,191.90 L510.75,192.47 L511.00,193.54 L511.25,194.55 L511.50,195.35 L511.75,196.94 L512.00,198.18 L512.25,199.13 L512.50,200.09 L512.75,200.48 L513.00,200.91 L513.25,201.61 L513.50,201.50 L513.75,201.47 L514.00,202.15 L514.25,201.90 L514.50,202.02 L514.75,201.85 L515.00,201.89 L515.25,201.94 L515.50,202.10 L515.75,202.25 L516.00,201.79 L516.25,202.35 L516.50,202.02 L516.75,202.06 L517.00,202.40 L517.25,202.28 L517.50,202.04 L517.75,202.67 L518.00,202.20 L518.25,202.42 L518.50,202.43 L518.75,202.67 L519.00,202.35 L519.25,202.63 L519.50,202.34 L519.75,202.69 L520.00,202.37 L520.25,202.46 L520.50,202.89 L520.75,202.62 L521.00,202.60 L521.25,203.00 L521.50,202.68 L521.75,202.48 L522.00,202.77 L522.25,202.44 L522.50,202.87 L522.75,202.89 L523.00,202.58 L523.25,202.58 L523.50,202.74 L523.75,202.71 L524.00,202.54 L524.25,202.82 L524.50,202.36 L524.75,202.65 L525.00,202.66 L525.25,202.68 L525.50,202.78 L525.75,202.51 L526.00,202.83 L526.25,202.69 L526.50,202.60 L526.75,202.47 L527.00,202.50 L527.25,202.78 L527.50,202.53 L527.75,202.71 L528.00,202.89 L528.25,202.88 L528.50,202.97 L528.75,202.63 L529.00,202.48 L529.25,202.85 L529.50,202.72 L529.75,202.86 L530.00,202.65 L530.25,202.86 L530.50,202.79 L530.75,202.76 L531.00,202.71 L531.25,202.69 L531.50,202.65 L531.75,202.64 L532.00,202.77 L532.25,202.49 L532.50,202.89 L532.75,202.55 L533.00,202.74 L533.25,202.53 L533.50,202.50 L533.75,202.90 L534.00,202.47 L534.25,202.29 L534.50,202.38 L534.75,202.45 L535.00,202.88 L535.25,202.53 L535.50,202.65 L535.75,202.30 L536.00,202.53 L536.25,202.58 L536.50,202.78 L536.75,202.32 L537.00,202.55 L537.25,202.49 L537.50,202.25 L537.75,202.42 L538.00,202.37 L538.25,202.00 L538.50,202.52 L538.75,202.50 L539.00,202.32 L539.25,202.15 L539.50,202.64 L539.75,202.39 L540.00,202.47 L540.25,202.46 L540.50,201.97 L540.75,201.98 L541.00,201.44 L541.25,200.98 L541.50,200.30 L541.75,199.44 L542.00,198.58 L542.25,197.17 L542.50,195.78 L542.75,194.41 L543.00,193.26 L543.25,191.98 L543.50,191.29 L543.75,190.97 L544.00,190.89 L544.25,191.39 L544.50,192.09 L544.75,193.65 L545.00,194.83 L545.25,196.08 L545.50,197.39 L545.75,199.10 L546.00,199.91 L546.25,200.78 L546.50,201.59 L546.75,202.14 L547.00,202.73 L547.25,202.75 L547.50,203.32 L547.75,202.91 L548.00,203.28 L548.25,203.04 L548.50,203.60 L548.75,203.26 L549.00,203.35 L549.25,203.56 L549.50,203.66 L549.75,203.28 L550.00,203.45 L550.25,203.30 L550.50,203.62 L550.75,203.62 L551.00,203.61 L551.25,203.60 L551.50,203.69 L551.75,203.67 L552.00,203.94 L552.25,204.16 L552.50,203.58 L552.75,203.94 L553.00,203.93 L553.25,204.13 L553.50,203.91 L553.75,204.10 L554.00,203.98 L554.25,204.33 L554.50,204.26 L554.75,204.25 L555.00,204.38 L555.25,204.31 L555.50,204.11 L555.75,204.53 L556.00,204.51 L556.25,204.46 L556.50,204.70 L556.75,204.77 L557.00,204.39 L557.25,204.47 L557.50,204.92 L557.75,204.93 L558.00,204.57 L558.25,204.52 L558.50,204.65 L558.75,204.70 L559.00,204.54 L559.25,204.86 L559.50,204.65 L559.75,204.69 L560.00,205.10 L560.25,204.84 L560.50,204.98 L560.75,205.13 L561.00,205.19 L561.25,205.01 L561.50,205.10 L561.75,204.97 L562.00,205.46 L562.25,205.29 L562.50,205.00 L562.75,205.23 L563.00,205.38 L563.25,205.36 L563.50,205.63 L563.75,205.58 L564.00,205.26 L564.25,205.36 L564.50,205.17 L564.75,205.48 L565.00,205.48 L565.25,205.97 L565.50,205.52 L565.75,205.15 L566.00,205.43 L566.25,205.60 L566.50,205.37 L566.75,205.46 L567.00,205.56 L567.25,205.69 L567.50,205.58 L567.75,205.42 L568.00,205.65 L568.25,205.31 L568.50,205.16 L568.75,204.79 L569.00,204.62 L569.25,204.54 L569.50,203.73 L569.75,203.56 L570.00,203.22 L570.25,202.55 L570.50,202.23 L570.75,201.62 L571.00,201.80 L571.25,201.62 L571.50,201.47 L571.75,201.25 L572.00,201.65 L572.25,202.40 L572.50,203.00 L572.75,203.26 L573.00,203.96 L573.25,204.14 L573.50,204.68 L573.75,205.13 L574.00,205.56 L574.25,205.49 L574.50,206.16 L574.75,206.40 L575.00,206.09 L575.25,206.15 L575.50,206.53 L575.75,206.40 L576.00,206.14 L576.25,206.75 L576.50,206.66 L576.75,206.58 L577.00,207.08 L577.25,206.75 L577.50,206.62 L577.75,206.80 L578.00,206.62 L578.25,206.70 L578.50,206.94 L578.75,206.79 L579.00,206.84 L579.25,207.25 L579.50,207.14 L579.75,207.16 L580.00,207.14 L580.25,207.16 L580.50,207.36 L580.75,207.13 L581.00,207.49 L581.25,207.02 L581.50,207.17 L581.75,207.00 L582.00,207.21 L582.25,207.40 L582.50,207.60 L582.75,207.25 L583.00,207.40 L583.25,207.36 L583.50,207.32 L583.75,207.27 L584.00,207.52 L584.25,207.23 L584.50,207.59 L584.75,207.61 L585.00,207.51 L585.25,207.48 L585.50,207.44 L585.75,208.05 L586.00,207.50 L586.25,208.05 L586.50,207.91 L586.75,207.76 L587.00,207.65 L587.25,208.07 L587.50,208.22 L587.75,207.77 L588.00,207.91 L588.25,208.18 L588.50,208.08 L588.75,208.41 L589.00,207.97 L589.25,208.20 L589.50,207.90 L589.75,208.53 L590.00,208.04 L590.25,207.80 L590.50,208.20 L590.75,208.22 L591.00,208.62 L591.25,208.23 L591.50,208.31 L591.75,208.45 L592.00,208.65 L592.25,208.37 L592.50,208.59 L592.75,208.52 L593.00,208.39 L593.25,208.48 L593.50,208.49 L593.75,208.34 L594.00,208.75 L594.25,208.30 L594.50,208.78 L594.75,208.76 L595.00,208.59 L595.25,208.49 L595.50,208.60 L595.75,208.74 L596.00,208.81 L596.25,208.75 L596.50,208.89 L596.75,208.63 L597.00,208.79 L597.25,208.48 L597.50,208.92 L597.75,208.83 L598.00,208.74 L598.25,209.04 L598.50,208.97 L598.75,208.36 L599.00,208.89 L599.25,208.64 L599.50,209.11 L599.75,209.38 L600.00,208.86 L600.25,208.98 L600.50,208.94 L600.75,209.06 L601.00,209.13 L601.25,209.26 L601.50,208.87 L601.75,209.35 L602.00,208.91 L602.25,209.15 L602.50,209.32 L602.75,209.26 L603.00,208.98 L603.25,209.04 L603.50,209.10 L603.75,209.19 L604.00,209.42 L604.25,209.00 L604.50,209.33 L604.75,209.38 L605.00,209.38 L605.25,209.39 L605.50,209.59 L605.75,209.43 L606.00,209.51 L606.25,209.48 L606.50,209.72 L606.75,209.07 L607.00,209.66 L607.25,209.41 L607.50,209.42 L607.75,209.32 L608.00,209.18 L608.25,209.46 L608.50,209.43 L608.75,209.66 L609.00,209.33 L609.25,209.87 L609.50,209.67 L609.75,209.59 L610.00,209.51 L610.25,209.48 L610.50,209.39 L610.75,209.45 L611.00,209.47 L611.25,209.33 L611.50,208.95 L611.75,208.97 L612.00,208.62 L612.25,208.55 L612.50,208.57 L612.75,208.05 L613.00,207.60 L613.25,207.12 L613.50,206.98 L613.75,206.83 L614.00,207.25 L614.25,207.05 L614.50,207.37 L614.75,207.49 L615.00,207.92 L615.25,208.50 L615.50,208.48 L615.75,208.89 L616.00,209.14 L616.25,209.74 L616.50,209.65 L616.75,209.84 L617.00,209.97 L617.25,210.10 L617.50,210.54 L617.75,211.00 L618.00,210.43 L618.25,210.83 L618.50,210.75 L618.75,210.55 L619.00,210.73 L619.25,210.78 L619.50,210.73 L619.75,211.24 L620.00,210.59 L620.25,211.04 L620.50,211.06 L620.75,210.94 L621.00,211.11 L621.25,211.28 L621.50,211.18 L621.75,211.27 L622.00,211.36 L622.25,210.91 L622.50,211.58 L622.75,211.76 L623.00,211.56 L623.25,211.61 L623.50,211.21 L623.75,211.48 L624.00,211.39 L624.25,211.46 L624.50,211.78 L624.75,211.49 L625.00,211.65 L625.25,211.36 L625.50,211.71 L625.75,211.78 L626.00,211.67 L626.25,211.69 L626.50,212.19 L626.75,211.66 L627.00,211.71 L627.25,211.78 L627.50,212.16 L627.75,212.34 L628.00,212.04 L628.25,211.86 L628.50,211.93 L628.75,212.20 L629.00,211.85 L629.25,212.28 L629.50,212.26 L629.75,212.00 L630.00,212.07 L630.25,212.04 L630.50,212.12 L630.75,211.57 L631.00,211.86 L631.25,211.46 L631.50,211.24 L631.75,211.23 L632.00,210.99 L632.25,210.67 L632.50,210.39 L632.75,210.35 L633.00,210.66 L633.25,210.66 L633.50,210.37 L633.75,210.47 L634.00,210.21 L634.25,210.37 L634.50,210.55 L634.75,210.45 L635.00,210.62 L635.25,210.98 L635.50,211.06 L635.75,211.08 L636.00,211.47 L636.25,211.46 L636.50,211.78 L636.75,211.67 L637.00,211.67 L637.25,211.79 L637.50,211.77 L637.75,211.72 L638.00,211.80 L638.25,212.04 L638.50,212.06 L638.75,212.22 L639.00,211.72 L639.25,212.01 L639.50,212.05 L639.75,212.21 L640.00,212.15 L640.25,212.20 L640.50,212.49 L640.75,212.45 L641.00,212.27 L641.25,212.78 L641.50,212.78 L641.75,212.57 L642.00,212.88 L642.25,212.66 L642.50,213.06 L642.75,212.88 L643.00,212.83 L643.25,212.96 L643.50,212.94 L643.75,213.16 L644.00,213.20 L644.25,213.21 L644.50,213.14 L644.75,212.61 L645.00,213.31 L645.25,212.98 L645.50,213.38 L645.75,213.56 L646.00,213.43 L646.25,213.33 L646.50,213.38 L646.75,213.41 L647.00,213.35 L647.25,213.37 L647.50,213.32 L647.75,213.72 L648.00,213.52 L648.25,213.71 L648.50,213.51 L648.75,213.58 L649.00,213.55 L649.25,213.68 L649.50,213.76 L649.75,213.67 L650.00,213.52 L650.25,213.51 L650.50,213.97 L650.75,213.63 L651.00,213.64 L651.25,213.97 L651.50,213.91 L651.75,213.82 L652.00,213.66 L652.25,214.17 L652.50,213.83 L652.75,213.86 L653.00,213.74 L653.25,213.53 L653.50,213.55 L653.75,213.87 L654.00,213.87 L654.25,213.77 L654.50,213.60 L654.75,213.56 L655.00,213.77 L655.25,213.57 L655.50,214.00 L655.75,214.05 L656.00,214.35 L656.25,214.01 L656.50,213.75 L656.75,213.70 L657.00,213.24 L657.25,213.76 L657.50,213.84 L657.75,214.05 L658.00,213.99 L658.25,213.99 L658.50,213.93 L658.75,214.01 L659.00,214.16 L659.25,213.71 L659.50,213.82 L659.75,213.66 L660.00,214.21 L660.25,214.15 L660.50,214.06 L660.75,213.71 L661.00,213.96 L661.25,213.89 L661.50,213.95 L661.75,213.91 L662.00,214.04 L662.25,213.88 L662.50,214.11 L662.75,214.00 L663.00,213.91 L663.25,213.94 L663.50,213.89 L663.75,214.12 L664.00,213.92 L664.25,214.03 L664.50,213.91 L664.75,213.71 L665.00,214.15 L665.25,213.80 L665.50,214.11 L665.75,214.07 L666.00,213.70 L666.25,213.83 L666.50,213.91 L666.75,213.85 L667.00,213.79 L667.25,214.14 L667.50,213.96 L667.75,214.08 L668.00,213.93 L668.25,214.07 L668.50,213.88 L668.75,214.01 L669.00,214.12 L669.25,214.03 L669.50,213.94 L669.75,213.83 L670.00,214.06 L670.25,214.09 L670.50,213.98 L670.75,213.89 L671.00,214.13 L671.25,214.48 L671.50,213.98 L671.75,214.09 L672.00,214.10 L672.25,213.57 L672.50,214.06 L672.75,213.91 L673.00,214.28 L673.25,213.99 L673.50,213.90 L673.75,214.00 L674.00,214.07" fill="none" stroke="#000" stroke-width="1.4" stroke-linejoin="round"/>
<path d="M58.3,2.45H678.9M58.3,218.7H679.5" stroke="#000" stroke-width="1.2" fill="none"/>
<path d="M58.3,1.9V219.4M678.9,1.9V219.4" stroke="#000" stroke-width="1.3" fill="none"/>
<path d="M58.3,218.7H679.5" stroke="#000" stroke-width="1.5" fill="none"/>
<path d="M58.5,208.23h3.3 M58.5,199.65h3.3 M58.5,192.39h3.3 M58.5,186.11h3.3 M58.5,180.56h3.3 M58.5,175.60h6.9 M58.5,142.97h3.3 M58.5,123.88h3.3 M58.5,110.34h3.3 M58.5,99.83h3.3 M58.5,91.25h3.3 M58.5,83.99h3.3 M58.5,77.71h3.3 M58.5,72.16h3.3 M58.5,67.20h6.9 M58.5,34.57h3.3 M58.5,15.48h3.3 M83.87,218.4v-3.5 M125.70,218.4v-6.8 M167.53,218.4v-3.5 M209.37,218.4v-6.8 M251.20,218.4v-3.5 M293.04,218.4v-6.8 M334.88,218.4v-3.5 M376.71,218.4v-6.8 M418.55,218.4v-3.5 M460.38,218.4v-6.8 M502.21,218.4v-3.5 M544.05,218.4v-6.8 M585.88,218.4v-3.5 M627.72,218.4v-6.8 M669.56,218.4v-3.5" stroke="#000" stroke-width="1.2" fill="none"/>
<g font-family='"Liberation Sans", sans-serif' font-size="14" fill="#000">
<text x="56.3" y="71.80" text-anchor="end">1000</text>
<text x="56.3" y="180.20" text-anchor="end">100</text>
<text x="125.70" y="233.3" text-anchor="middle">3</text>
<text x="209.37" y="233.3" text-anchor="middle">4</text>
<text x="293.04" y="233.3" text-anchor="middle">5</text>
<text x="376.71" y="233.3" text-anchor="middle">6</text>
<text x="460.38" y="233.3" text-anchor="middle">7</text>
<text x="544.05" y="233.3" text-anchor="middle">8</text>
<text x="627.72" y="233.3" text-anchor="middle">9</text>
</g>
<text font-family='"Liberation Sans", sans-serif' font-size="14.7" x="368.7" y="252.3" text-anchor="middle">Q (Å<tspan font-size="10.4" dy="-6.8">-1</tspan><tspan dy="6.8">)</tspan></text>
<text font-family='"Liberation Sans", sans-serif' font-size="14.7" transform="translate(18.8,110.5) rotate(-90)" text-anchor="middle">Intensity (arb. units)</text>
<text font-family='"Liberation Sans", sans-serif' font-size="22.4" transform="translate(7.6,12.7) scale(1,1.07)" stroke="#000" stroke-width="0.3">a</text>
<rect x="115.20" y="22.60" width="9.6" height="9.4" fill="#f00"/>
<rect x="153.70" y="61.00" width="9.6" height="9.4" fill="#f00"/>
<rect x="270.50" y="109.30" width="9.6" height="9.4" fill="#f00"/>
<rect x="340.90" y="120.30" width="9.6" height="9.4" fill="#f00"/>
<rect x="361.60" y="160.20" width="9.6" height="9.4" fill="#f00"/>
<rect x="441.30" y="180.00" width="9.6" height="9.4" fill="#f00"/>
<rect x="484.20" y="173.00" width="9.6" height="9.4" fill="#f00"/>
<rect x="504.20" y="181.60" width="9.6" height="9.4" fill="#f00"/>
<rect x="565.60" y="190.50" width="9.6" height="9.4" fill="#f00"/>
<rect x="607.90" y="196.50" width="9.6" height="9.4" fill="#f00"/>
<circle cx="126" cy="8.3" r="4.8" fill="#00f"/>
<circle cx="231.2" cy="115.6" r="4.8" fill="#00f"/>
<circle cx="311.2" cy="91.6" r="4.8" fill="#00f"/>
<circle cx="379.3" cy="157.1" r="4.8" fill="#00f"/>
<circle cx="439.1" cy="172.8" r="4.8" fill="#00f"/>
<circle cx="499.5" cy="178.4" r="4.8" fill="#00f"/>
<circle cx="542.7" cy="184.9" r="4.8" fill="#00f"/>
<rect x="383.9" y="18.2" width="9.7" height="9.3" fill="#f00"/>
<circle cx="389.4" cy="46.9" r="4.8" fill="#00f"/>
<text font-family='"Liberation Sans", sans-serif' font-size="15.7" x="403.3" y="27.8">FCC</text>
<text font-family='"Liberation Sans", sans-serif' font-size="15.7" x="403.3" y="53.1">BCC</text>
<rect x="50.8" y="266.9" width="292.0" height="234.8" fill="none" stroke="#3a3a3a" stroke-width="1.1"/>
<path d="M50.8,493.40h4 M50.8,471.53h2.2 M50.8,449.66h4 M50.8,427.79h2.2 M50.8,405.92h4 M50.8,384.05h2.2 M50.8,362.18h4 M50.8,340.31h2.2 M50.8,318.44h4 M50.8,296.57h2.2 M50.8,274.70h4 M68.80,501.7v-4.5 M90.16,501.7v-2.5 M111.52,501.7v-4.5 M132.88,501.7v-2.5 M154.24,501.7v-4.5 M175.60,501.7v-2.5 M196.96,501.7v-4.5 M218.32,501.7v-2.5 M239.68,501.7v-4.5 M261.04,501.7v-2.5 M282.40,501.7v-4.5 M303.76,501.7v-2.5 M325.12,501.7v-4.5" stroke="#3a3a3a" stroke-width="1.1" fill="none"/>
<g font-family='"Liberation Sans", sans-serif' font-size="12.2" fill="#000">
<text x="45.6" y="497.70" text-anchor="end">0</text>
<text x="45.6" y="453.96" text-anchor="end">500</text>
<text x="45.6" y="410.22" text-anchor="end">1000</text>
<text x="45.6" y="366.48" text-anchor="end">1500</text>
<text x="45.6" y="322.74" text-anchor="end">2000</text>
<text x="45.6" y="279.00" text-anchor="end">2500</text>
<text x="68.80" y="516.7" text-anchor="middle">2.91</text>
<text x="111.52" y="516.7" text-anchor="middle">2.92</text>
<text x="154.24" y="516.7" text-anchor="middle">2.93</text>
<text x="196.96" y="516.7" text-anchor="middle">2.94</text>
<text x="239.68" y="516.7" text-anchor="middle">2.95</text>
<text x="282.40" y="516.7" text-anchor="middle">2.96</text>
<text x="325.12" y="516.7" text-anchor="middle">2.97</text>
</g>
<text font-family='"Liberation Sans", sans-serif' font-size="13.3" fill="#000" x="196.9" y="534.4" text-anchor="middle">Q (Å<tspan font-size="9.4" dy="-6.2">-1</tspan><tspan dy="6.2">)</tspan></text>
<text font-family='"Liberation Sans", sans-serif' font-size="13.3" fill="#000" transform="translate(12.5,383.7) rotate(-90)" text-anchor="middle">Intensity (arb. units)</text>
<text font-family='"Liberation Sans", sans-serif' font-size="23.2" x="1.9" y="283.5" stroke="#000" stroke-width="0.35">b</text>
<path d="M64.40,489.90 L64.65,489.90 L64.90,489.90 L65.15,489.90 L65.40,489.90 L65.65,489.90 L65.90,489.90 L66.15,489.90 L66.40,489.90 L66.65,489.90 L66.90,489.90 L67.15,489.90 L67.40,489.90 L67.65,489.90 L67.90,489.90 L68.15,489.90 L68.40,489.90 L68.65,489.90 L68.90,489.90 L69.15,489.90 L69.40,489.90 L69.65,489.90 L69.90,489.90 L70.15,489.90 L70.40,489.90 L70.65,489.90 L70.90,489.90 L71.15,489.90 L71.40,489.90 L71.65,489.90 L71.90,489.90 L72.15,489.90 L72.40,489.90 L72.65,489.90 L72.90,489.90 L73.15,489.90 L73.40,489.90 L73.65,489.90 L73.90,489.90 L74.15,489.90 L74.40,489.90 L74.65,489.90 L74.90,489.90 L75.15,489.90 L75.40,489.90 L75.65,489.90 L75.90,489.90 L76.15,489.90 L76.40,489.90 L76.65,489.90 L76.90,489.90 L77.15,489.90 L77.40,489.90 L77.65,489.90 L77.90,489.90 L78.15,489.90 L78.40,489.90 L78.65,489.90 L78.90,489.90 L79.15,489.90 L79.40,489.90 L79.65,489.90 L79.90,489.90 L80.15,489.90 L80.40,489.90 L80.65,489.90 L80.90,489.90 L81.15,489.90 L81.40,489.90 L81.65,489.90 L81.90,489.90 L82.15,489.90 L82.40,489.90 L82.65,489.90 L82.90,489.90 L83.15,489.90 L83.40,489.90 L83.65,489.90 L83.90,489.90 L84.15,489.90 L84.40,489.90 L84.65,489.90 L84.90,489.90 L85.15,489.90 L85.40,489.90 L85.65,489.90 L85.90,489.90 L86.15,489.90 L86.40,489.90 L86.65,489.90 L86.90,489.90 L87.15,489.90 L87.40,489.90 L87.65,489.90 L87.90,489.90 L88.15,489.90 L88.40,489.90 L88.65,489.90 L88.90,489.90 L89.15,489.90 L89.40,489.90 L89.65,489.90 L89.90,489.90 L90.15,489.90 L90.40,489.90 L90.65,489.90 L90.90,489.90 L91.15,489.90 L91.40,489.90 L91.65,489.90 L91.90,489.90 L92.15,489.90 L92.40,489.90 L92.65,489.90 L92.90,489.90 L93.15,489.90 L93.40,489.90 L93.65,489.90 L93.90,489.90 L94.15,489.90 L94.40,489.90 L94.65,489.90 L94.90,489.90 L95.15,489.90 L95.40,489.90 L95.65,489.90 L95.90,489.90 L96.15,489.90 L96.40,489.90 L96.65,489.90 L96.90,489.90 L97.15,489.90 L97.40,489.90 L97.65,489.90 L97.90,489.90 L98.15,489.90 L98.40,489.90 L98.65,489.90 L98.90,489.90 L99.15,489.90 L99.40,489.90 L99.65,489.90 L99.90,489.90 L100.15,489.90 L100.40,489.90 L100.65,489.90 L100.90,489.90 L101.15,489.90 L101.40,489.90 L101.65,489.90 L101.90,489.90 L102.15,489.90 L102.40,489.90 L102.65,489.90 L102.90,489.90 L103.15,489.90 L103.40,489.90 L103.65,489.90 L103.90,489.90 L104.15,489.90 L104.40,489.90 L104.65,489.90 L104.90,489.90 L105.15,489.90 L105.40,489.90 L105.65,489.90 L105.90,489.90 L106.15,489.90 L106.40,489.90 L106.65,489.90 L106.90,489.90 L107.15,489.90 L107.40,489.90 L107.65,489.90 L107.90,489.90 L108.15,489.90 L108.40,489.90 L108.65,489.90 L108.90,489.90 L109.15,489.90 L109.40,489.90 L109.65,489.90 L109.90,489.90 L110.15,489.90 L110.40,489.90 L110.65,489.90 L110.90,489.90 L111.15,489.90 L111.40,489.90 L111.65,489.90 L111.90,489.90 L112.15,489.90 L112.40,489.90 L112.65,489.90 L112.90,489.90 L113.15,489.90 L113.40,489.90 L113.65,489.90 L113.90,489.90 L114.15,489.90 L114.40,489.90 L114.65,489.90 L114.90,489.90 L115.15,489.90 L115.40,489.90 L115.65,489.90 L115.90,489.90 L116.15,489.90 L116.40,489.90 L116.65,489.90 L116.90,489.90 L117.15,489.90 L117.40,489.90 L117.65,489.90 L117.90,489.90 L118.15,489.90 L118.40,489.90 L118.65,489.90 L118.90,489.90 L119.15,489.90 L119.40,489.90 L119.65,489.90 L119.90,489.90 L120.15,489.90 L120.40,489.90 L120.65,489.90 L120.90,489.90 L121.15,489.90 L121.40,489.90 L121.65,489.90 L121.90,489.90 L122.15,489.90 L122.40,489.90 L122.65,489.90 L122.90,489.90 L123.15,489.90 L123.40,489.90 L123.65,489.90 L123.90,489.90 L124.15,489.90 L124.40,489.90 L124.65,489.90 L124.90,489.90 L125.15,489.90 L125.40,489.90 L125.65,489.90 L125.90,489.90 L126.15,489.90 L126.40,489.90 L126.65,489.90 L126.90,489.90 L127.15,489.90 L127.40,489.90 L127.65,489.90 L127.90,489.90 L128.15,489.90 L128.40,489.90 L128.65,489.90 L128.90,489.90 L129.15,489.90 L129.40,489.90 L129.65,489.90 L129.90,489.90 L130.15,489.90 L130.40,489.90 L130.65,489.90 L130.90,489.90 L131.15,489.90 L131.40,489.90 L131.65,489.90 L131.90,489.90 L132.15,489.90 L132.40,489.90 L132.65,489.90 L132.90,489.90 L133.15,489.90 L133.40,489.90 L133.65,489.90 L133.90,489.90 L134.15,489.90 L134.40,489.90 L134.65,489.90 L134.90,489.90 L135.15,489.90 L135.40,489.90 L135.65,489.90 L135.90,489.90 L136.15,489.90 L136.40,489.90 L136.65,489.90 L136.90,489.90 L137.15,489.90 L137.40,489.90 L137.65,489.90 L137.90,489.90 L138.15,489.90 L138.40,489.90 L138.65,489.90 L138.90,489.90 L139.15,489.90 L139.40,489.90 L139.65,489.90 L139.90,489.90 L140.15,489.90 L140.40,489.90 L140.65,489.90 L140.90,489.90 L141.15,489.90 L141.40,489.90 L141.65,489.90 L141.90,489.90 L142.15,489.90 L142.40,489.90 L142.65,489.90 L142.90,489.90 L143.15,489.90 L143.40,489.90 L143.65,489.90 L143.90,489.90 L144.15,489.90 L144.40,489.90 L144.65,489.90 L144.90,489.90 L145.15,489.90 L145.40,489.90 L145.65,489.90 L145.90,489.90 L146.15,489.90 L146.40,489.90 L146.65,489.90 L146.90,489.90 L147.15,489.90 L147.40,489.90 L147.65,489.90 L147.90,489.90 L148.15,489.90 L148.40,489.90 L148.65,489.90 L148.90,489.90 L149.15,489.90 L149.40,489.90 L149.65,489.90 L149.90,489.90 L150.15,489.90 L150.40,489.90 L150.65,489.90 L150.90,489.90 L151.15,489.90 L151.40,489.90 L151.65,489.90 L151.90,489.90 L152.15,489.90 L152.40,489.90 L152.65,489.90 L152.90,489.90 L153.15,489.90 L153.40,489.90 L153.65,489.90 L153.90,489.90 L154.15,489.90 L154.40,489.90 L154.65,489.90 L154.90,489.90 L155.15,489.90 L155.40,489.90 L155.65,489.90 L155.90,489.90 L156.15,489.90 L156.40,489.90 L156.65,489.90 L156.90,489.90 L157.15,489.90 L157.40,489.90 L157.65,489.90 L157.90,489.90 L158.15,489.90 L158.40,489.90 L158.65,489.90 L158.90,489.90 L159.15,489.90 L159.40,489.90 L159.65,489.90 L159.90,489.90 L160.15,489.90 L160.40,489.90 L160.65,489.90 L160.90,489.90 L161.15,489.90 L161.40,489.90 L161.65,489.90 L161.90,489.90 L162.15,489.90 L162.40,489.90 L162.65,489.90 L162.90,489.90 L163.15,489.90 L163.40,489.90 L163.65,489.90 L163.90,489.90 L164.15,489.90 L164.40,489.90 L164.65,489.90 L164.90,489.90 L165.15,489.90 L165.40,489.90 L165.65,489.90 L165.90,489.90 L166.15,489.90 L166.40,489.90 L166.65,489.90 L166.90,489.90 L167.15,489.90 L167.40,489.90 L167.65,489.90 L167.90,489.90 L168.15,489.90 L168.40,489.90 L168.65,489.90 L168.90,489.90 L169.15,489.90 L169.40,489.90 L169.65,489.90 L169.90,489.90 L170.15,489.90 L170.40,489.90 L170.65,489.90 L170.90,489.90 L171.15,489.89 L171.40,489.89 L171.65,489.89 L171.90,489.89 L172.15,489.89 L172.40,489.89 L172.65,489.89 L172.90,489.88 L173.15,489.88 L173.40,489.88 L173.65,489.87 L173.90,489.87 L174.15,489.86 L174.40,489.86 L174.65,489.85 L174.90,489.85 L175.15,489.84 L175.40,489.83 L175.65,489.82 L175.90,489.81 L176.15,489.80 L176.40,489.78 L176.65,489.77 L176.90,489.75 L177.15,489.73 L177.40,489.70 L177.65,489.68 L177.90,489.65 L178.15,489.62 L178.40,489.58 L178.65,489.54 L178.90,489.50 L179.15,489.45 L179.40,489.39 L179.65,489.33 L179.90,489.27 L180.15,489.19 L180.40,489.11 L180.65,489.02 L180.90,488.92 L181.15,488.81 L181.40,488.68 L181.65,488.55 L181.90,488.40 L182.15,488.24 L182.40,488.06 L182.65,487.87 L182.90,487.66 L183.15,487.43 L183.40,487.17 L183.65,486.90 L183.90,486.60 L184.15,486.28 L184.40,485.93 L184.65,485.55 L184.90,485.14 L185.15,484.69 L185.40,484.21 L185.65,483.70 L185.90,483.14 L186.15,482.54 L186.40,481.90 L186.65,481.21 L186.90,480.48 L187.15,479.69 L187.40,478.85 L187.65,477.95 L187.90,477.00 L188.15,475.98 L188.40,474.90 L188.65,473.76 L188.90,472.55 L189.15,471.26 L189.40,469.91 L189.65,468.48 L189.90,466.97 L190.15,465.38 L190.40,463.72 L190.65,461.97 L190.90,460.13 L191.15,458.21 L191.40,456.21 L191.65,454.12 L191.90,451.94 L192.15,449.67 L192.40,447.32 L192.65,444.87 L192.90,442.34 L193.15,439.73 L193.40,437.02 L193.65,434.24 L193.90,431.37 L194.15,428.42 L194.40,425.40 L194.65,422.30 L194.90,419.14 L195.15,415.90 L195.40,412.61 L195.65,409.26 L195.90,405.85 L196.15,402.40 L196.40,398.91 L196.65,395.39 L196.90,391.84 L197.15,388.26 L197.40,384.68 L197.65,381.09 L197.90,377.50 L198.15,373.92 L198.40,370.36 L198.65,366.83 L198.90,363.33 L199.15,359.88 L199.40,356.48 L199.65,353.15 L199.90,349.89 L200.15,346.71 L200.40,343.62 L200.65,340.63 L200.90,337.75 L201.15,334.99 L201.40,332.35 L201.65,329.84 L201.90,327.47 L202.15,325.26 L202.40,323.19 L202.65,321.29 L202.90,319.56 L203.15,318.00 L203.40,316.61 L203.65,315.42 L203.90,314.40 L204.15,313.58 L204.40,312.95 L204.65,312.52 L204.90,312.28 L205.15,312.24 L205.40,312.39 L205.65,312.75 L205.90,313.30 L206.15,314.04 L206.40,314.97 L206.65,316.09 L206.90,317.40 L207.15,318.89 L207.40,320.55 L207.65,322.38 L207.90,324.38 L208.15,326.54 L208.40,328.84 L208.65,331.29 L208.90,333.88 L209.15,336.59 L209.40,339.42 L209.65,342.37 L209.90,345.42 L210.15,348.56 L210.40,351.79 L210.65,355.09 L210.90,358.46 L211.15,361.89 L211.40,365.37 L211.65,368.89 L211.90,372.44 L212.15,376.01 L212.40,379.60 L212.65,383.19 L212.90,386.78 L213.15,390.36 L213.40,393.92 L213.65,397.46 L213.90,400.96 L214.15,404.43 L214.40,407.85 L214.65,411.23 L214.90,414.55 L215.15,417.81 L215.40,421.00 L215.65,424.13 L215.90,427.18 L216.15,430.16 L216.40,433.06 L216.65,435.88 L216.90,438.62 L217.15,441.27 L217.40,443.84 L217.65,446.31 L217.90,448.71 L218.15,451.01 L218.40,453.23 L218.65,455.35 L218.90,457.39 L219.15,459.35 L219.40,461.22 L219.65,463.00 L219.90,464.70 L220.15,466.32 L220.40,467.86 L220.65,469.32 L220.90,470.71 L221.15,472.02 L221.40,473.27 L221.65,474.44 L221.90,475.54 L222.15,476.59 L222.40,477.57 L222.65,478.49 L222.90,479.35 L223.15,480.16 L223.40,480.92 L223.65,481.62 L223.90,482.28 L224.15,482.90 L224.40,483.47 L224.65,484.00 L224.90,484.50 L225.15,484.96 L225.40,485.38 L225.65,485.77 L225.90,486.14 L226.15,486.47 L226.40,486.78 L226.65,487.06 L226.90,487.32 L227.15,487.56 L227.40,487.78 L227.65,487.98 L227.90,488.17 L228.15,488.34 L228.40,488.49 L228.65,488.63 L228.90,488.76 L229.15,488.87 L229.40,488.98 L229.65,489.07 L229.90,489.16 L230.15,489.24 L230.40,489.31 L230.65,489.37 L230.90,489.43 L231.15,489.48 L231.40,489.53 L231.65,489.57 L231.90,489.60 L232.15,489.64 L232.40,489.67 L232.65,489.69 L232.90,489.72 L233.15,489.74 L233.40,489.76 L233.65,489.78 L233.90,489.79 L234.15,489.80 L234.40,489.82 L234.65,489.83 L234.90,489.84 L235.15,489.84 L235.40,489.85 L235.65,489.86 L235.90,489.86 L236.15,489.87 L236.40,489.87 L236.65,489.88 L236.90,489.88 L237.15,489.88 L237.40,489.88 L237.65,489.89 L237.90,489.89 L238.15,489.89 L238.40,489.89 L238.65,489.89 L238.90,489.89 L239.15,489.89 L239.40,489.90 L239.65,489.90 L239.90,489.90 L240.15,489.90 L240.40,489.90 L240.65,489.90 L240.90,489.90 L241.15,489.90 L241.40,489.90 L241.65,489.90 L241.90,489.90 L242.15,489.90 L242.40,489.90 L242.65,489.90 L242.90,489.90 L243.15,489.90 L243.40,489.90 L243.65,489.90 L243.90,489.90 L244.15,489.90 L244.40,489.90 L244.65,489.90 L244.90,489.90 L245.15,489.90 L245.40,489.90 L245.65,489.90 L245.90,489.90 L246.15,489.90 L246.40,489.90 L246.65,489.90 L246.90,489.90 L247.15,489.90 L247.40,489.90 L247.65,489.90 L247.90,489.90 L248.15,489.90 L248.40,489.90 L248.65,489.90 L248.90,489.90 L249.15,489.90 L249.40,489.90 L249.65,489.90 L249.90,489.90 L250.15,489.90 L250.40,489.90 L250.65,489.90 L250.90,489.90 L251.15,489.90 L251.40,489.90 L251.65,489.90 L251.90,489.90 L252.15,489.90 L252.40,489.90 L252.65,489.90 L252.90,489.90 L253.15,489.90 L253.40,489.90 L253.65,489.90 L253.90,489.90 L254.15,489.90 L254.40,489.90 L254.65,489.90 L254.90,489.90 L255.15,489.90 L255.40,489.90 L255.65,489.90 L255.90,489.90 L256.15,489.90 L256.40,489.90 L256.65,489.90 L256.90,489.90 L257.15,489.90 L257.40,489.90 L257.65,489.90 L257.90,489.90 L258.15,489.90 L258.40,489.90 L258.65,489.90 L258.90,489.90 L259.15,489.90 L259.40,489.90 L259.65,489.90 L259.90,489.90 L260.15,489.90 L260.40,489.90 L260.65,489.90 L260.90,489.90 L261.15,489.90 L261.40,489.90 L261.65,489.90 L261.90,489.90 L262.15,489.90 L262.40,489.90 L262.65,489.90 L262.90,489.90 L263.15,489.90 L263.40,489.90 L263.65,489.90 L263.90,489.90 L264.15,489.90 L264.40,489.90 L264.65,489.90 L264.90,489.90 L265.15,489.90 L265.40,489.90 L265.65,489.90 L265.90,489.90 L266.15,489.90 L266.40,489.90 L266.65,489.90 L266.90,489.90 L267.15,489.90 L267.40,489.90 L267.65,489.90 L267.90,489.90 L268.15,489.90 L268.40,489.90 L268.65,489.90 L268.90,489.90 L269.15,489.90 L269.40,489.90 L269.65,489.90 L269.90,489.90 L270.15,489.90 L270.40,489.90 L270.65,489.90 L270.90,489.90 L271.15,489.90 L271.40,489.90 L271.65,489.90 L271.90,489.90 L272.15,489.90 L272.40,489.90 L272.65,489.90 L272.90,489.90 L273.15,489.90 L273.40,489.90 L273.65,489.90 L273.90,489.90 L274.15,489.90 L274.40,489.90 L274.65,489.90 L274.90,489.90 L275.15,489.90 L275.40,489.90 L275.65,489.90 L275.90,489.90 L276.15,489.90 L276.40,489.90 L276.65,489.90 L276.90,489.90 L277.15,489.90 L277.40,489.90 L277.65,489.90 L277.90,489.90 L278.15,489.90 L278.40,489.90 L278.65,489.90 L278.90,489.90 L279.15,489.90 L279.40,489.90 L279.65,489.90 L279.90,489.90 L280.15,489.90 L280.40,489.90 L280.65,489.90 L280.90,489.90 L281.15,489.90 L281.40,489.90 L281.65,489.90 L281.90,489.90 L282.15,489.90 L282.40,489.90 L282.65,489.90 L282.90,489.90 L283.15,489.90 L283.40,489.90 L283.65,489.90 L283.90,489.90 L284.15,489.90 L284.40,489.90 L284.65,489.90 L284.90,489.90 L285.15,489.90 L285.40,489.90 L285.65,489.90 L285.90,489.90 L286.15,489.90 L286.40,489.90 L286.65,489.90 L286.90,489.90 L287.15,489.90 L287.40,489.90 L287.65,489.90 L287.90,489.90 L288.15,489.90 L288.40,489.90 L288.65,489.90 L288.90,489.90 L289.15,489.90 L289.40,489.90 L289.65,489.90 L289.90,489.90 L290.15,489.90 L290.40,489.90 L290.65,489.90 L290.90,489.90 L291.15,489.90 L291.40,489.90 L291.65,489.90 L291.90,489.90 L292.15,489.90 L292.40,489.90 L292.65,489.90 L292.90,489.90 L293.15,489.90 L293.40,489.90 L293.65,489.90 L293.90,489.90 L294.15,489.90 L294.40,489.90 L294.65,489.90 L294.90,489.90 L295.15,489.90 L295.40,489.90 L295.65,489.90 L295.90,489.90 L296.15,489.90 L296.40,489.90 L296.65,489.90 L296.90,489.90 L297.15,489.90 L297.40,489.90 L297.65,489.90 L297.90,489.90 L298.15,489.90 L298.40,489.90 L298.65,489.90 L298.90,489.90 L299.15,489.90 L299.40,489.90 L299.65,489.90 L299.90,489.90 L300.15,489.90 L300.40,489.90 L300.65,489.90 L300.90,489.90 L301.15,489.90 L301.40,489.90 L301.65,489.90 L301.90,489.90 L302.15,489.90 L302.40,489.90 L302.65,489.90 L302.90,489.90 L303.15,489.90 L303.40,489.90 L303.65,489.90 L303.90,489.90 L304.15,489.90 L304.40,489.90 L304.65,489.90 L304.90,489.90 L305.15,489.90 L305.40,489.90 L305.65,489.90 L305.90,489.90 L306.15,489.90 L306.40,489.90 L306.65,489.90 L306.90,489.90 L307.15,489.90 L307.40,489.90 L307.65,489.90 L307.90,489.90 L308.15,489.90 L308.40,489.90 L308.65,489.90 L308.90,489.90 L309.15,489.90 L309.40,489.90 L309.65,489.90 L309.90,489.90 L310.15,489.90 L310.40,489.90 L310.65,489.90 L310.90,489.90 L311.15,489.90 L311.40,489.90 L311.65,489.90 L311.90,489.90 L312.15,489.90 L312.40,489.90 L312.65,489.90 L312.90,489.90 L313.15,489.90 L313.40,489.90 L313.65,489.90 L313.90,489.90 L314.15,489.90 L314.40,489.90 L314.65,489.90 L314.90,489.90 L315.15,489.90 L315.40,489.90 L315.65,489.90 L315.90,489.90 L316.15,489.90 L316.40,489.90 L316.65,489.90 L316.90,489.90 L317.15,489.90 L317.40,489.90 L317.65,489.90 L317.90,489.90 L318.15,489.90 L318.40,489.90 L318.65,489.90 L318.90,489.90 L319.15,489.90 L319.40,489.90 L319.65,489.90 L319.90,489.90 L320.15,489.90 L320.40,489.90 L320.65,489.90 L320.90,489.90 L321.15,489.90 L321.40,489.90 L321.65,489.90 L321.90,489.90 L322.15,489.90 L322.40,489.90 L322.65,489.90 L322.90,489.90 L323.15,489.90 L323.40,489.90 L323.65,489.90 L323.90,489.90 L324.15,489.90 L324.40,489.90 L324.65,489.90 L324.90,489.90 L325.15,489.90 L325.40,489.90 L325.65,489.90 L325.90,489.90 L326.15,489.90 L326.40,489.90 L326.65,489.90 L326.90,489.90 L327.15,489.90 L327.40,489.90 L327.65,489.90 L327.90,489.90 L328.15,489.90 L328.40,489.90 L328.65,489.90 L328.90,489.90 L329.15,489.90 L329.40,489.90 L329.65,489.90 L329.90,489.90 L330.15,489.90 L330.40,489.90 L330.65,489.90 L330.90,489.90 L331.15,489.90 L331.40,489.90 L331.65,489.90 L331.90,489.90 L332.15,489.90 L332.40,489.90 L332.65,489.90 L332.90,489.90 L333.15,489.90 L333.40,489.90 L333.65,489.90 L333.90,489.90 L334.15,489.90 L334.40,489.90 L334.65,489.90 L334.90,489.90 L335.15,489.90 L335.40,489.90 L335.65,489.90 L335.90,489.90 L336.15,489.90 L336.40,489.90 L336.65,489.90 L336.90,489.90 L337.15,489.90 L337.40,489.90 L337.65,489.90 L337.90,489.90 L338.15,489.90 L338.40,489.90 L338.65,489.90 L338.90,489.90 L339.15,489.90 L339.40,489.90 L339.65,489.90 L339.90,489.90 L340.15,489.90 L340.40,489.90 L340.65,489.90 L340.90,489.90 L341.15,489.90 L341.40,489.90 L341.65,489.90 L341.90,489.90 L342.15,489.90" fill="none" stroke="#33ee33" stroke-width="1.3" stroke-dasharray="4.5,4.6"/>
<path d="M64.40,489.90 L64.65,489.90 L64.90,489.90 L65.15,489.90 L65.40,489.90 L65.65,489.90 L65.90,489.90 L66.15,489.90 L66.40,489.90 L66.65,489.90 L66.90,489.90 L67.15,489.90 L67.40,489.90 L67.65,489.90 L67.90,489.90 L68.15,489.90 L68.40,489.90 L68.65,489.90 L68.90,489.90 L69.15,489.90 L69.40,489.90 L69.65,489.90 L69.90,489.90 L70.15,489.90 L70.40,489.90 L70.65,489.90 L70.90,489.90 L71.15,489.90 L71.40,489.90 L71.65,489.90 L71.90,489.90 L72.15,489.90 L72.40,489.90 L72.65,489.90 L72.90,489.90 L73.15,489.90 L73.40,489.90 L73.65,489.90 L73.90,489.90 L74.15,489.90 L74.40,489.90 L74.65,489.90 L74.90,489.90 L75.15,489.90 L75.40,489.90 L75.65,489.90 L75.90,489.90 L76.15,489.90 L76.40,489.90 L76.65,489.90 L76.90,489.90 L77.15,489.90 L77.40,489.90 L77.65,489.90 L77.90,489.90 L78.15,489.90 L78.40,489.90 L78.65,489.90 L78.90,489.90 L79.15,489.90 L79.40,489.90 L79.65,489.90 L79.90,489.90 L80.15,489.90 L80.40,489.90 L80.65,489.90 L80.90,489.90 L81.15,489.90 L81.40,489.90 L81.65,489.90 L81.90,489.90 L82.15,489.90 L82.40,489.90 L82.65,489.90 L82.90,489.90 L83.15,489.90 L83.40,489.90 L83.65,489.90 L83.90,489.90 L84.15,489.90 L84.40,489.90 L84.65,489.90 L84.90,489.90 L85.15,489.90 L85.40,489.90 L85.65,489.90 L85.90,489.90 L86.15,489.90 L86.40,489.90 L86.65,489.90 L86.90,489.90 L87.15,489.90 L87.40,489.90 L87.65,489.90 L87.90,489.90 L88.15,489.90 L88.40,489.90 L88.65,489.90 L88.90,489.90 L89.15,489.90 L89.40,489.90 L89.65,489.90 L89.90,489.90 L90.15,489.90 L90.40,489.90 L90.65,489.90 L90.90,489.90 L91.15,489.90 L91.40,489.90 L91.65,489.90 L91.90,489.90 L92.15,489.90 L92.40,489.90 L92.65,489.90 L92.90,489.90 L93.15,489.90 L93.40,489.90 L93.65,489.90 L93.90,489.90 L94.15,489.90 L94.40,489.90 L94.65,489.90 L94.90,489.90 L95.15,489.90 L95.40,489.90 L95.65,489.90 L95.90,489.90 L96.15,489.90 L96.40,489.90 L96.65,489.90 L96.90,489.90 L97.15,489.90 L97.40,489.90 L97.65,489.90 L97.90,489.90 L98.15,489.90 L98.40,489.90 L98.65,489.90 L98.90,489.90 L99.15,489.90 L99.40,489.90 L99.65,489.90 L99.90,489.90 L100.15,489.90 L100.40,489.90 L100.65,489.90 L100.90,489.90 L101.15,489.90 L101.40,489.90 L101.65,489.90 L101.90,489.90 L102.15,489.90 L102.40,489.90 L102.65,489.90 L102.90,489.90 L103.15,489.90 L103.40,489.90 L103.65,489.90 L103.90,489.90 L104.15,489.90 L104.40,489.90 L104.65,489.90 L104.90,489.90 L105.15,489.90 L105.40,489.90 L105.65,489.90 L105.90,489.90 L106.15,489.90 L106.40,489.90 L106.65,489.90 L106.90,489.90 L107.15,489.90 L107.40,489.90 L107.65,489.90 L107.90,489.90 L108.15,489.90 L108.40,489.90 L108.65,489.90 L108.90,489.90 L109.15,489.90 L109.40,489.90 L109.65,489.90 L109.90,489.90 L110.15,489.90 L110.40,489.90 L110.65,489.90 L110.90,489.90 L111.15,489.90 L111.40,489.90 L111.65,489.90 L111.90,489.90 L112.15,489.90 L112.40,489.90 L112.65,489.90 L112.90,489.90 L113.15,489.90 L113.40,489.90 L113.65,489.90 L113.90,489.90 L114.15,489.90 L114.40,489.90 L114.65,489.90 L114.90,489.90 L115.15,489.90 L115.40,489.90 L115.65,489.90 L115.90,489.90 L116.15,489.90 L116.40,489.90 L116.65,489.90 L116.90,489.90 L117.15,489.90 L117.40,489.90 L117.65,489.90 L117.90,489.90 L118.15,489.90 L118.40,489.90 L118.65,489.90 L118.90,489.90 L119.15,489.90 L119.40,489.90 L119.65,489.90 L119.90,489.90 L120.15,489.90 L120.40,489.90 L120.65,489.90 L120.90,489.90 L121.15,489.90 L121.40,489.90 L121.65,489.90 L121.90,489.90 L122.15,489.90 L122.40,489.90 L122.65,489.90 L122.90,489.90 L123.15,489.90 L123.40,489.90 L123.65,489.90 L123.90,489.90 L124.15,489.90 L124.40,489.90 L124.65,489.90 L124.90,489.90 L125.15,489.90 L125.40,489.90 L125.65,489.90 L125.90,489.90 L126.15,489.90 L126.40,489.90 L126.65,489.90 L126.90,489.90 L127.15,489.90 L127.40,489.90 L127.65,489.90 L127.90,489.90 L128.15,489.90 L128.40,489.90 L128.65,489.90 L128.90,489.90 L129.15,489.90 L129.40,489.90 L129.65,489.90 L129.90,489.90 L130.15,489.90 L130.40,489.90 L130.65,489.90 L130.90,489.90 L131.15,489.90 L131.40,489.90 L131.65,489.90 L131.90,489.90 L132.15,489.90 L132.40,489.90 L132.65,489.90 L132.90,489.90 L133.15,489.90 L133.40,489.90 L133.65,489.90 L133.90,489.90 L134.15,489.90 L134.40,489.90 L134.65,489.90 L134.90,489.90 L135.15,489.90 L135.40,489.90 L135.65,489.90 L135.90,489.90 L136.15,489.90 L136.40,489.90 L136.65,489.90 L136.90,489.90 L137.15,489.90 L137.40,489.90 L137.65,489.90 L137.90,489.90 L138.15,489.90 L138.40,489.90 L138.65,489.90 L138.90,489.90 L139.15,489.90 L139.40,489.90 L139.65,489.90 L139.90,489.90 L140.15,489.90 L140.40,489.90 L140.65,489.90 L140.90,489.90 L141.15,489.90 L141.40,489.90 L141.65,489.90 L141.90,489.90 L142.15,489.90 L142.40,489.90 L142.65,489.90 L142.90,489.90 L143.15,489.90 L143.40,489.90 L143.65,489.90 L143.90,489.90 L144.15,489.90 L144.40,489.90 L144.65,489.90 L144.90,489.90 L145.15,489.90 L145.40,489.90 L145.65,489.90 L145.90,489.90 L146.15,489.90 L146.40,489.90 L146.65,489.90 L146.90,489.90 L147.15,489.90 L147.40,489.90 L147.65,489.90 L147.90,489.90 L148.15,489.90 L148.40,489.90 L148.65,489.90 L148.90,489.90 L149.15,489.90 L149.40,489.90 L149.65,489.90 L149.90,489.90 L150.15,489.90 L150.40,489.90 L150.65,489.90 L150.90,489.90 L151.15,489.90 L151.40,489.90 L151.65,489.90 L151.90,489.90 L152.15,489.90 L152.40,489.90 L152.65,489.90 L152.90,489.90 L153.15,489.90 L153.40,489.90 L153.65,489.90 L153.90,489.90 L154.15,489.90 L154.40,489.90 L154.65,489.90 L154.90,489.90 L155.15,489.90 L155.40,489.90 L155.65,489.90 L155.90,489.90 L156.15,489.90 L156.40,489.90 L156.65,489.90 L156.90,489.90 L157.15,489.90 L157.40,489.90 L157.65,489.90 L157.90,489.90 L158.15,489.90 L158.40,489.90 L158.65,489.90 L158.90,489.90 L159.15,489.90 L159.40,489.90 L159.65,489.90 L159.90,489.90 L160.15,489.90 L160.40,489.90 L160.65,489.90 L160.90,489.90 L161.15,489.90 L161.40,489.90 L161.65,489.90 L161.90,489.90 L162.15,489.90 L162.40,489.90 L162.65,489.90 L162.90,489.90 L163.15,489.90 L163.40,489.90 L163.65,489.90 L163.90,489.90 L164.15,489.90 L164.40,489.90 L164.65,489.90 L164.90,489.90 L165.15,489.90 L165.40,489.90 L165.65,489.90 L165.90,489.90 L166.15,489.90 L166.40,489.90 L166.65,489.90 L166.90,489.90 L167.15,489.90 L167.40,489.90 L167.65,489.90 L167.90,489.90 L168.15,489.90 L168.40,489.90 L168.65,489.90 L168.90,489.90 L169.15,489.90 L169.40,489.90 L169.65,489.90 L169.90,489.90 L170.15,489.90 L170.40,489.90 L170.65,489.90 L170.90,489.90 L171.15,489.90 L171.40,489.90 L171.65,489.90 L171.90,489.90 L172.15,489.90 L172.40,489.90 L172.65,489.90 L172.90,489.90 L173.15,489.90 L173.40,489.90 L173.65,489.90 L173.90,489.90 L174.15,489.90 L174.40,489.90 L174.65,489.90 L174.90,489.90 L175.15,489.90 L175.40,489.90 L175.65,489.90 L175.90,489.90 L176.15,489.90 L176.40,489.90 L176.65,489.90 L176.90,489.90 L177.15,489.90 L177.40,489.90 L177.65,489.90 L177.90,489.90 L178.15,489.90 L178.40,489.90 L178.65,489.90 L178.90,489.89 L179.15,489.89 L179.40,489.89 L179.65,489.89 L179.90,489.89 L180.15,489.88 L180.40,489.88 L180.65,489.88 L180.90,489.87 L181.15,489.86 L181.40,489.86 L181.65,489.85 L181.90,489.84 L182.15,489.83 L182.40,489.82 L182.65,489.80 L182.90,489.78 L183.15,489.76 L183.40,489.74 L183.65,489.71 L183.90,489.67 L184.15,489.64 L184.40,489.59 L184.65,489.54 L184.90,489.48 L185.15,489.41 L185.40,489.34 L185.65,489.25 L185.90,489.15 L186.15,489.04 L186.40,488.91 L186.65,488.76 L186.90,488.59 L187.15,488.40 L187.40,488.19 L187.65,487.95 L187.90,487.69 L188.15,487.39 L188.40,487.05 L188.65,486.68 L188.90,486.27 L189.15,485.81 L189.40,485.30 L189.65,484.73 L189.90,484.11 L190.15,483.42 L190.40,482.67 L190.65,481.84 L190.90,480.94 L191.15,479.96 L191.40,478.88 L191.65,477.71 L191.90,476.45 L192.15,475.08 L192.40,473.60 L192.65,472.00 L192.90,470.29 L193.15,468.45 L193.40,466.49 L193.65,464.39 L193.90,462.15 L194.15,459.78 L194.40,457.26 L194.65,454.60 L194.90,451.79 L195.15,448.83 L195.40,445.73 L195.65,442.48 L195.90,439.08 L196.15,435.55 L196.40,431.87 L196.65,428.06 L196.90,424.13 L197.15,420.07 L197.40,415.91 L197.65,411.63 L197.90,407.27 L198.15,402.82 L198.40,398.31 L198.65,393.74 L198.90,389.13 L199.15,384.49 L199.40,379.85 L199.65,375.21 L199.90,370.60 L200.15,366.04 L200.40,361.54 L200.65,357.12 L200.90,352.81 L201.15,348.62 L201.40,344.57 L201.65,340.68 L201.90,336.98 L202.15,333.47 L202.40,330.18 L202.65,327.12 L202.90,324.31 L203.15,321.77 L203.40,319.50 L203.65,317.52 L203.90,315.85 L204.15,314.48 L204.40,313.43 L204.65,312.71 L204.90,312.31 L205.15,312.24 L205.40,312.50 L205.65,313.09 L205.90,314.01 L206.15,315.24 L206.40,316.79 L206.65,318.65 L206.90,320.79 L207.15,323.22 L207.40,325.93 L207.65,328.88 L207.90,332.08 L208.15,335.50 L208.40,339.13 L208.65,342.94 L208.90,346.92 L209.15,351.06 L209.40,355.32 L209.65,359.70 L209.90,364.17 L210.15,368.71 L210.40,373.30 L210.65,377.93 L210.90,382.57 L211.15,387.21 L211.40,391.83 L211.65,396.42 L211.90,400.96 L212.15,405.44 L212.40,409.84 L212.65,414.15 L212.90,418.36 L213.15,422.46 L213.40,426.45 L213.65,430.31 L213.90,434.04 L214.15,437.63 L214.40,441.09 L214.65,444.40 L214.90,447.56 L215.15,450.58 L215.40,453.45 L215.65,456.17 L215.90,458.75 L216.15,461.18 L216.40,463.48 L216.65,465.63 L216.90,467.65 L217.15,469.54 L217.40,471.31 L217.65,472.95 L217.90,474.48 L218.15,475.89 L218.40,477.20 L218.65,478.41 L218.90,479.52 L219.15,480.54 L219.40,481.48 L219.65,482.34 L219.90,483.12 L220.15,483.83 L220.40,484.48 L220.65,485.07 L220.90,485.60 L221.15,486.08 L221.40,486.51 L221.65,486.90 L221.90,487.25 L222.15,487.57 L222.40,487.85 L222.65,488.10 L222.90,488.32 L223.15,488.52 L223.40,488.69 L223.65,488.85 L223.90,488.98 L224.15,489.10 L224.40,489.21 L224.65,489.30 L224.90,489.38 L225.15,489.46 L225.40,489.52 L225.65,489.57 L225.90,489.62 L226.15,489.66 L226.40,489.69 L226.65,489.72 L226.90,489.75 L227.15,489.77 L227.40,489.79 L227.65,489.81 L227.90,489.82 L228.15,489.84 L228.40,489.85 L228.65,489.85 L228.90,489.86 L229.15,489.87 L229.40,489.87 L229.65,489.88 L229.90,489.88 L230.15,489.89 L230.40,489.89 L230.65,489.89 L230.90,489.89 L231.15,489.89 L231.40,489.89 L231.65,489.90 L231.90,489.90 L232.15,489.90 L232.40,489.90 L232.65,489.90 L232.90,489.90 L233.15,489.90 L233.40,489.90 L233.65,489.90 L233.90,489.90 L234.15,489.90 L234.40,489.90 L234.65,489.90 L234.90,489.90 L235.15,489.90 L235.40,489.90 L235.65,489.90 L235.90,489.90 L236.15,489.90 L236.40,489.90 L236.65,489.90 L236.90,489.90 L237.15,489.90 L237.40,489.90 L237.65,489.90 L237.90,489.90 L238.15,489.90 L238.40,489.90 L238.65,489.90 L238.90,489.90 L239.15,489.90 L239.40,489.90 L239.65,489.90 L239.90,489.90 L240.15,489.90 L240.40,489.90 L240.65,489.90 L240.90,489.90 L241.15,489.90 L241.40,489.90 L241.65,489.90 L241.90,489.90 L242.15,489.90 L242.40,489.90 L242.65,489.90 L242.90,489.90 L243.15,489.90 L243.40,489.90 L243.65,489.90 L243.90,489.90 L244.15,489.90 L244.40,489.90 L244.65,489.90 L244.90,489.90 L245.15,489.90 L245.40,489.90 L245.65,489.90 L245.90,489.90 L246.15,489.90 L246.40,489.90 L246.65,489.90 L246.90,489.90 L247.15,489.90 L247.40,489.90 L247.65,489.90 L247.90,489.90 L248.15,489.90 L248.40,489.90 L248.65,489.90 L248.90,489.90 L249.15,489.90 L249.40,489.90 L249.65,489.90 L249.90,489.90 L250.15,489.90 L250.40,489.90 L250.65,489.90 L250.90,489.90 L251.15,489.90 L251.40,489.90 L251.65,489.90 L251.90,489.90 L252.15,489.90 L252.40,489.90 L252.65,489.90 L252.90,489.90 L253.15,489.90 L253.40,489.90 L253.65,489.90 L253.90,489.90 L254.15,489.90 L254.40,489.90 L254.65,489.90 L254.90,489.90 L255.15,489.90 L255.40,489.90 L255.65,489.90 L255.90,489.90 L256.15,489.90 L256.40,489.90 L256.65,489.90 L256.90,489.90 L257.15,489.90 L257.40,489.90 L257.65,489.90 L257.90,489.90 L258.15,489.90 L258.40,489.90 L258.65,489.90 L258.90,489.90 L259.15,489.90 L259.40,489.90 L259.65,489.90 L259.90,489.90 L260.15,489.90 L260.40,489.90 L260.65,489.90 L260.90,489.90 L261.15,489.90 L261.40,489.90 L261.65,489.90 L261.90,489.90 L262.15,489.90 L262.40,489.90 L262.65,489.90 L262.90,489.90 L263.15,489.90 L263.40,489.90 L263.65,489.90 L263.90,489.90 L264.15,489.90 L264.40,489.90 L264.65,489.90 L264.90,489.90 L265.15,489.90 L265.40,489.90 L265.65,489.90 L265.90,489.90 L266.15,489.90 L266.40,489.90 L266.65,489.90 L266.90,489.90 L267.15,489.90 L267.40,489.90 L267.65,489.90 L267.90,489.90 L268.15,489.90 L268.40,489.90 L268.65,489.90 L268.90,489.90 L269.15,489.90 L269.40,489.90 L269.65,489.90 L269.90,489.90 L270.15,489.90 L270.40,489.90 L270.65,489.90 L270.90,489.90 L271.15,489.90 L271.40,489.90 L271.65,489.90 L271.90,489.90 L272.15,489.90 L272.40,489.90 L272.65,489.90 L272.90,489.90 L273.15,489.90 L273.40,489.90 L273.65,489.90 L273.90,489.90 L274.15,489.90 L274.40,489.90 L274.65,489.90 L274.90,489.90 L275.15,489.90 L275.40,489.90 L275.65,489.90 L275.90,489.90 L276.15,489.90 L276.40,489.90 L276.65,489.90 L276.90,489.90 L277.15,489.90 L277.40,489.90 L277.65,489.90 L277.90,489.90 L278.15,489.90 L278.40,489.90 L278.65,489.90 L278.90,489.90 L279.15,489.90 L279.40,489.90 L279.65,489.90 L279.90,489.90 L280.15,489.90 L280.40,489.90 L280.65,489.90 L280.90,489.90 L281.15,489.90 L281.40,489.90 L281.65,489.90 L281.90,489.90 L282.15,489.90 L282.40,489.90 L282.65,489.90 L282.90,489.90 L283.15,489.90 L283.40,489.90 L283.65,489.90 L283.90,489.90 L284.15,489.90 L284.40,489.90 L284.65,489.90 L284.90,489.90 L285.15,489.90 L285.40,489.90 L285.65,489.90 L285.90,489.90 L286.15,489.90 L286.40,489.90 L286.65,489.90 L286.90,489.90 L287.15,489.90 L287.40,489.90 L287.65,489.90 L287.90,489.90 L288.15,489.90 L288.40,489.90 L288.65,489.90 L288.90,489.90 L289.15,489.90 L289.40,489.90 L289.65,489.90 L289.90,489.90 L290.15,489.90 L290.40,489.90 L290.65,489.90 L290.90,489.90 L291.15,489.90 L291.40,489.90 L291.65,489.90 L291.90,489.90 L292.15,489.90 L292.40,489.90 L292.65,489.90 L292.90,489.90 L293.15,489.90 L293.40,489.90 L293.65,489.90 L293.90,489.90 L294.15,489.90 L294.40,489.90 L294.65,489.90 L294.90,489.90 L295.15,489.90 L295.40,489.90 L295.65,489.90 L295.90,489.90 L296.15,489.90 L296.40,489.90 L296.65,489.90 L296.90,489.90 L297.15,489.90 L297.40,489.90 L297.65,489.90 L297.90,489.90 L298.15,489.90 L298.40,489.90 L298.65,489.90 L298.90,489.90 L299.15,489.90 L299.40,489.90 L299.65,489.90 L299.90,489.90 L300.15,489.90 L300.40,489.90 L300.65,489.90 L300.90,489.90 L301.15,489.90 L301.40,489.90 L301.65,489.90 L301.90,489.90 L302.15,489.90 L302.40,489.90 L302.65,489.90 L302.90,489.90 L303.15,489.90 L303.40,489.90 L303.65,489.90 L303.90,489.90 L304.15,489.90 L304.40,489.90 L304.65,489.90 L304.90,489.90 L305.15,489.90 L305.40,489.90 L305.65,489.90 L305.90,489.90 L306.15,489.90 L306.40,489.90 L306.65,489.90 L306.90,489.90 L307.15,489.90 L307.40,489.90 L307.65,489.90 L307.90,489.90 L308.15,489.90 L308.40,489.90 L308.65,489.90 L308.90,489.90 L309.15,489.90 L309.40,489.90 L309.65,489.90 L309.90,489.90 L310.15,489.90 L310.40,489.90 L310.65,489.90 L310.90,489.90 L311.15,489.90 L311.40,489.90 L311.65,489.90 L311.90,489.90 L312.15,489.90 L312.40,489.90 L312.65,489.90 L312.90,489.90 L313.15,489.90 L313.40,489.90 L313.65,489.90 L313.90,489.90 L314.15,489.90 L314.40,489.90 L314.65,489.90 L314.90,489.90 L315.15,489.90 L315.40,489.90 L315.65,489.90 L315.90,489.90 L316.15,489.90 L316.40,489.90 L316.65,489.90 L316.90,489.90 L317.15,489.90 L317.40,489.90 L317.65,489.90 L317.90,489.90 L318.15,489.90 L318.40,489.90 L318.65,489.90 L318.90,489.90 L319.15,489.90 L319.40,489.90 L319.65,489.90 L319.90,489.90 L320.15,489.90 L320.40,489.90 L320.65,489.90 L320.90,489.90 L321.15,489.90 L321.40,489.90 L321.65,489.90 L321.90,489.90 L322.15,489.90 L322.40,489.90 L322.65,489.90 L322.90,489.90 L323.15,489.90 L323.40,489.90 L323.65,489.90 L323.90,489.90 L324.15,489.90 L324.40,489.90 L324.65,489.90 L324.90,489.90 L325.15,489.90 L325.40,489.90 L325.65,489.90 L325.90,489.90 L326.15,489.90 L326.40,489.90 L326.65,489.90 L326.90,489.90 L327.15,489.90 L327.40,489.90 L327.65,489.90 L327.90,489.90 L328.15,489.90 L328.40,489.90 L328.65,489.90 L328.90,489.90 L329.15,489.90 L329.40,489.90 L329.65,489.90 L329.90,489.90 L330.15,489.90 L330.40,489.90 L330.65,489.90 L330.90,489.90 L331.15,489.90 L331.40,489.90 L331.65,489.90 L331.90,489.90 L332.15,489.90 L332.40,489.90 L332.65,489.90 L332.90,489.90 L333.15,489.90 L333.40,489.90 L333.65,489.90 L333.90,489.90 L334.15,489.90 L334.40,489.90 L334.65,489.90 L334.90,489.90 L335.15,489.90 L335.40,489.90 L335.65,489.90 L335.90,489.90 L336.15,489.90 L336.40,489.90 L336.65,489.90 L336.90,489.90 L337.15,489.90 L337.40,489.90 L337.65,489.90 L337.90,489.90 L338.15,489.90 L338.40,489.90 L338.65,489.90 L338.90,489.90 L339.15,489.90 L339.40,489.90 L339.65,489.90 L339.90,489.90 L340.15,489.90 L340.40,489.90 L340.65,489.90 L340.90,489.90 L341.15,489.90 L341.40,489.90 L341.65,489.90 L341.90,489.90 L342.15,489.90" fill="none" stroke="#ff9933" stroke-width="1.3" stroke-dasharray="4.5,4.6"/>
<path d="M64.40,489.90 L64.65,489.90 L64.90,489.90 L65.15,489.90 L65.40,489.90 L65.65,489.90 L65.90,489.90 L66.15,489.90 L66.40,489.90 L66.65,489.90 L66.90,489.90 L67.15,489.90 L67.40,489.90 L67.65,489.90 L67.90,489.90 L68.15,489.90 L68.40,489.90 L68.65,489.90 L68.90,489.90 L69.15,489.90 L69.40,489.90 L69.65,489.90 L69.90,489.90 L70.15,489.90 L70.40,489.90 L70.65,489.90 L70.90,489.90 L71.15,489.90 L71.40,489.90 L71.65,489.90 L71.90,489.90 L72.15,489.90 L72.40,489.90 L72.65,489.90 L72.90,489.90 L73.15,489.90 L73.40,489.90 L73.65,489.90 L73.90,489.90 L74.15,489.90 L74.40,489.90 L74.65,489.90 L74.90,489.90 L75.15,489.90 L75.40,489.90 L75.65,489.90 L75.90,489.90 L76.15,489.90 L76.40,489.90 L76.65,489.90 L76.90,489.90 L77.15,489.90 L77.40,489.90 L77.65,489.90 L77.90,489.90 L78.15,489.90 L78.40,489.90 L78.65,489.90 L78.90,489.90 L79.15,489.90 L79.40,489.90 L79.65,489.90 L79.90,489.90 L80.15,489.90 L80.40,489.90 L80.65,489.90 L80.90,489.90 L81.15,489.90 L81.40,489.90 L81.65,489.90 L81.90,489.90 L82.15,489.90 L82.40,489.90 L82.65,489.90 L82.90,489.90 L83.15,489.90 L83.40,489.90 L83.65,489.90 L83.90,489.90 L84.15,489.90 L84.40,489.90 L84.65,489.90 L84.90,489.90 L85.15,489.90 L85.40,489.90 L85.65,489.90 L85.90,489.90 L86.15,489.90 L86.40,489.90 L86.65,489.90 L86.90,489.90 L87.15,489.90 L87.40,489.90 L87.65,489.90 L87.90,489.90 L88.15,489.90 L88.40,489.90 L88.65,489.90 L88.90,489.90 L89.15,489.90 L89.40,489.90 L89.65,489.90 L89.90,489.90 L90.15,489.90 L90.40,489.90 L90.65,489.90 L90.90,489.90 L91.15,489.90 L91.40,489.90 L91.65,489.90 L91.90,489.90 L92.15,489.90 L92.40,489.90 L92.65,489.90 L92.90,489.90 L93.15,489.90 L93.40,489.90 L93.65,489.90 L93.90,489.90 L94.15,489.90 L94.40,489.90 L94.65,489.90 L94.90,489.90 L95.15,489.90 L95.40,489.90 L95.65,489.90 L95.90,489.90 L96.15,489.90 L96.40,489.90 L96.65,489.90 L96.90,489.90 L97.15,489.90 L97.40,489.90 L97.65,489.90 L97.90,489.90 L98.15,489.90 L98.40,489.90 L98.65,489.90 L98.90,489.90 L99.15,489.90 L99.40,489.90 L99.65,489.90 L99.90,489.90 L100.15,489.90 L100.40,489.90 L100.65,489.90 L100.90,489.90 L101.15,489.90 L101.40,489.90 L101.65,489.90 L101.90,489.90 L102.15,489.90 L102.40,489.90 L102.65,489.90 L102.90,489.90 L103.15,489.90 L103.40,489.90 L103.65,489.90 L103.90,489.90 L104.15,489.90 L104.40,489.90 L104.65,489.90 L104.90,489.90 L105.15,489.90 L105.40,489.90 L105.65,489.90 L105.90,489.90 L106.15,489.90 L106.40,489.90 L106.65,489.90 L106.90,489.90 L107.15,489.90 L107.40,489.90 L107.65,489.90 L107.90,489.90 L108.15,489.90 L108.40,489.90 L108.65,489.90 L108.90,489.90 L109.15,489.90 L109.40,489.90 L109.65,489.90 L109.90,489.90 L110.15,489.90 L110.40,489.90 L110.65,489.90 L110.90,489.90 L111.15,489.90 L111.40,489.90 L111.65,489.90 L111.90,489.90 L112.15,489.90 L112.40,489.90 L112.65,489.90 L112.90,489.90 L113.15,489.90 L113.40,489.90 L113.65,489.90 L113.90,489.90 L114.15,489.90 L114.40,489.90 L114.65,489.90 L114.90,489.90 L115.15,489.90 L115.40,489.90 L115.65,489.90 L115.90,489.90 L116.15,489.90 L116.40,489.90 L116.65,489.90 L116.90,489.90 L117.15,489.90 L117.40,489.90 L117.65,489.90 L117.90,489.90 L118.15,489.90 L118.40,489.90 L118.65,489.90 L118.90,489.90 L119.15,489.90 L119.40,489.90 L119.65,489.90 L119.90,489.90 L120.15,489.90 L120.40,489.90 L120.65,489.90 L120.90,489.90 L121.15,489.90 L121.40,489.90 L121.65,489.90 L121.90,489.90 L122.15,489.90 L122.40,489.90 L122.65,489.90 L122.90,489.90 L123.15,489.90 L123.40,489.90 L123.65,489.90 L123.90,489.90 L124.15,489.90 L124.40,489.90 L124.65,489.90 L124.90,489.90 L125.15,489.90 L125.40,489.90 L125.65,489.90 L125.90,489.90 L126.15,489.90 L126.40,489.90 L126.65,489.90 L126.90,489.90 L127.15,489.90 L127.40,489.90 L127.65,489.90 L127.90,489.90 L128.15,489.90 L128.40,489.90 L128.65,489.90 L128.90,489.90 L129.15,489.90 L129.40,489.90 L129.65,489.90 L129.90,489.90 L130.15,489.90 L130.40,489.90 L130.65,489.90 L130.90,489.90 L131.15,489.90 L131.40,489.90 L131.65,489.90 L131.90,489.90 L132.15,489.90 L132.40,489.90 L132.65,489.90 L132.90,489.90 L133.15,489.90 L133.40,489.90 L133.65,489.90 L133.90,489.90 L134.15,489.90 L134.40,489.90 L134.65,489.90 L134.90,489.90 L135.15,489.90 L135.40,489.90 L135.65,489.90 L135.90,489.90 L136.15,489.90 L136.40,489.90 L136.65,489.90 L136.90,489.90 L137.15,489.90 L137.40,489.90 L137.65,489.90 L137.90,489.90 L138.15,489.90 L138.40,489.90 L138.65,489.90 L138.90,489.90 L139.15,489.90 L139.40,489.90 L139.65,489.90 L139.90,489.90 L140.15,489.90 L140.40,489.90 L140.65,489.90 L140.90,489.90 L141.15,489.90 L141.40,489.90 L141.65,489.90 L141.90,489.90 L142.15,489.90 L142.40,489.90 L142.65,489.90 L142.90,489.90 L143.15,489.90 L143.40,489.90 L143.65,489.90 L143.90,489.90 L144.15,489.90 L144.40,489.90 L144.65,489.90 L144.90,489.90 L145.15,489.90 L145.40,489.90 L145.65,489.90 L145.90,489.90 L146.15,489.89 L146.40,489.89 L146.65,489.89 L146.90,489.89 L147.15,489.89 L147.40,489.89 L147.65,489.89 L147.90,489.89 L148.15,489.89 L148.40,489.89 L148.65,489.89 L148.90,489.89 L149.15,489.88 L149.40,489.88 L149.65,489.88 L149.90,489.88 L150.15,489.88 L150.40,489.88 L150.65,489.87 L150.90,489.87 L151.15,489.87 L151.40,489.87 L151.65,489.86 L151.90,489.86 L152.15,489.86 L152.40,489.85 L152.65,489.85 L152.90,489.84 L153.15,489.84 L153.40,489.83 L153.65,489.83 L153.90,489.82 L154.15,489.82 L154.40,489.81 L154.65,489.80 L154.90,489.80 L155.15,489.79 L155.40,489.78 L155.65,489.77 L155.90,489.76 L156.15,489.75 L156.40,489.74 L156.65,489.73 L156.90,489.72 L157.15,489.70 L157.40,489.69 L157.65,489.67 L157.90,489.66 L158.15,489.64 L158.40,489.62 L158.65,489.60 L158.90,489.58 L159.15,489.55 L159.40,489.53 L159.65,489.50 L159.90,489.48 L160.15,489.45 L160.40,489.42 L160.65,489.38 L160.90,489.35 L161.15,489.31 L161.40,489.27 L161.65,489.23 L161.90,489.19 L162.15,489.14 L162.40,489.09 L162.65,489.04 L162.90,488.98 L163.15,488.92 L163.40,488.86 L163.65,488.79 L163.90,488.72 L164.15,488.65 L164.40,488.57 L164.65,488.49 L164.90,488.40 L165.15,488.31 L165.40,488.21 L165.65,488.11 L165.90,488.01 L166.15,487.89 L166.40,487.77 L166.65,487.65 L166.90,487.52 L167.15,487.38 L167.40,487.24 L167.65,487.08 L167.90,486.92 L168.15,486.76 L168.40,486.58 L168.65,486.40 L168.90,486.20 L169.15,486.00 L169.40,485.79 L169.65,485.57 L169.90,485.33 L170.15,485.09 L170.40,484.84 L170.65,484.57 L170.90,484.29 L171.15,484.00 L171.40,483.70 L171.65,483.39 L171.90,483.06 L172.15,482.71 L172.40,482.36 L172.65,481.98 L172.90,481.60 L173.15,481.19 L173.40,480.77 L173.65,480.34 L173.90,479.88 L174.15,479.41 L174.40,478.92 L174.65,478.42 L174.90,477.89 L175.15,477.34 L175.40,476.78 L175.65,476.19 L175.90,475.59 L176.15,474.96 L176.40,474.31 L176.65,473.63 L176.90,472.94 L177.15,472.22 L177.40,471.48 L177.65,470.71 L177.90,469.92 L178.15,469.10 L178.40,468.26 L178.65,467.40 L178.90,466.50 L179.15,465.58 L179.40,464.64 L179.65,463.66 L179.90,462.66 L180.15,461.64 L180.40,460.58 L180.65,459.49 L180.90,458.38 L181.15,457.24 L181.40,456.07 L181.65,454.87 L181.90,453.64 L182.15,452.38 L182.40,451.10 L182.65,449.78 L182.90,448.43 L183.15,447.06 L183.40,445.66 L183.65,444.22 L183.90,442.76 L184.15,441.27 L184.40,439.75 L184.65,438.20 L184.90,436.62 L185.15,435.02 L185.40,433.39 L185.65,431.73 L185.90,430.05 L186.15,428.34 L186.40,426.60 L186.65,424.84 L186.90,423.05 L187.15,421.24 L187.40,419.41 L187.65,417.56 L187.90,415.68 L188.15,413.78 L188.40,411.87 L188.65,409.94 L188.90,407.98 L189.15,406.01 L189.40,404.03 L189.65,402.03 L189.90,400.02 L190.15,398.00 L190.40,395.96 L190.65,393.92 L190.90,391.87 L191.15,389.81 L191.40,387.74 L191.65,385.67 L191.90,383.60 L192.15,381.53 L192.40,379.46 L192.65,377.39 L192.90,375.32 L193.15,373.26 L193.40,371.21 L193.65,369.16 L193.90,367.13 L194.15,365.10 L194.40,363.09 L194.65,361.10 L194.90,359.12 L195.15,357.16 L195.40,355.22 L195.65,353.31 L195.90,351.41 L196.15,349.55 L196.40,347.71 L196.65,345.90 L196.90,344.12 L197.15,342.37 L197.40,340.66 L197.65,338.98 L197.90,337.34 L198.15,335.74 L198.40,334.18 L198.65,332.67 L198.90,331.19 L199.15,329.77 L199.40,328.39 L199.65,327.05 L199.90,325.77 L200.15,324.54 L200.40,323.36 L200.65,322.24 L200.90,321.17 L201.15,320.15 L201.40,319.19 L201.65,318.30 L201.90,317.46 L202.15,316.68 L202.40,315.96 L202.65,315.30 L202.90,314.70 L203.15,314.17 L203.40,313.70 L203.65,313.30 L203.90,312.96 L204.15,312.68 L204.40,312.47 L204.65,312.32 L204.90,312.25 L205.15,312.23 L205.40,312.28 L205.65,312.40 L205.90,312.58 L206.15,312.83 L206.40,313.15 L206.65,313.53 L206.90,313.97 L207.15,314.47 L207.40,315.04 L207.65,315.68 L207.90,316.37 L208.15,317.12 L208.40,317.94 L208.65,318.82 L208.90,319.75 L209.15,320.74 L209.40,321.79 L209.65,322.89 L209.90,324.05 L210.15,325.26 L210.40,326.52 L210.65,327.83 L210.90,329.19 L211.15,330.60 L211.40,332.05 L211.65,333.55 L211.90,335.09 L212.15,336.67 L212.40,338.30 L212.65,339.96 L212.90,341.66 L213.15,343.39 L213.40,345.15 L213.65,346.95 L213.90,348.78 L214.15,350.64 L214.40,352.52 L214.65,354.42 L214.90,356.35 L215.15,358.31 L215.40,360.28 L215.65,362.26 L215.90,364.27 L216.15,366.29 L216.40,368.32 L216.65,370.36 L216.90,372.41 L217.15,374.47 L217.40,376.53 L217.65,378.60 L217.90,380.67 L218.15,382.74 L218.40,384.82 L218.65,386.89 L218.90,388.95 L219.15,391.01 L219.40,393.07 L219.65,395.12 L219.90,397.16 L220.15,399.18 L220.40,401.20 L220.65,403.20 L220.90,405.19 L221.15,407.17 L221.40,409.13 L221.65,411.07 L221.90,412.99 L222.15,414.90 L222.40,416.78 L222.65,418.64 L222.90,420.49 L223.15,422.30 L223.40,424.10 L223.65,425.87 L223.90,427.62 L224.15,429.34 L224.40,431.04 L224.65,432.71 L224.90,434.35 L225.15,435.96 L225.40,437.55 L225.65,439.11 L225.90,440.64 L226.15,442.15 L226.40,443.62 L226.65,445.07 L226.90,446.48 L227.15,447.87 L227.40,449.23 L227.65,450.55 L227.90,451.85 L228.15,453.12 L228.40,454.36 L228.65,455.58 L228.90,456.76 L229.15,457.91 L229.40,459.04 L229.65,460.13 L229.90,461.20 L230.15,462.24 L230.40,463.25 L230.65,464.24 L230.90,465.19 L231.15,466.13 L231.40,467.03 L231.65,467.91 L231.90,468.76 L232.15,469.58 L232.40,470.39 L232.65,471.16 L232.90,471.91 L233.15,472.64 L233.40,473.35 L233.65,474.03 L233.90,474.69 L234.15,475.33 L234.40,475.94 L234.65,476.54 L234.90,477.11 L235.15,477.67 L235.40,478.20 L235.65,478.72 L235.90,479.21 L236.15,479.69 L236.40,480.15 L236.65,480.60 L236.90,481.02 L237.15,481.43 L237.40,481.83 L237.65,482.20 L237.90,482.57 L238.15,482.92 L238.40,483.25 L238.65,483.57 L238.90,483.88 L239.15,484.17 L239.40,484.46 L239.65,484.73 L239.90,484.99 L240.15,485.23 L240.40,485.47 L240.65,485.70 L240.90,485.91 L241.15,486.12 L241.40,486.32 L241.65,486.50 L241.90,486.68 L242.15,486.86 L242.40,487.02 L242.65,487.17 L242.90,487.32 L243.15,487.46 L243.40,487.60 L243.65,487.72 L243.90,487.85 L244.15,487.96 L244.40,488.07 L244.65,488.17 L244.90,488.27 L245.15,488.37 L245.40,488.45 L245.65,488.54 L245.90,488.62 L246.15,488.69 L246.40,488.76 L246.65,488.83 L246.90,488.90 L247.15,488.96 L247.40,489.01 L247.65,489.07 L247.90,489.12 L248.15,489.17 L248.40,489.21 L248.65,489.26 L248.90,489.30 L249.15,489.33 L249.40,489.37 L249.65,489.40 L249.90,489.44 L250.15,489.47 L250.40,489.49 L250.65,489.52 L250.90,489.54 L251.15,489.57 L251.40,489.59 L251.65,489.61 L251.90,489.63 L252.15,489.65 L252.40,489.67 L252.65,489.68 L252.90,489.70 L253.15,489.71 L253.40,489.72 L253.65,489.74 L253.90,489.75 L254.15,489.76 L254.40,489.77 L254.65,489.78 L254.90,489.79 L255.15,489.79 L255.40,489.80 L255.65,489.81 L255.90,489.82 L256.15,489.82 L256.40,489.83 L256.65,489.83 L256.90,489.84 L257.15,489.84 L257.40,489.85 L257.65,489.85 L257.90,489.85 L258.15,489.86 L258.40,489.86 L258.65,489.86 L258.90,489.87 L259.15,489.87 L259.40,489.87 L259.65,489.87 L259.90,489.88 L260.15,489.88 L260.40,489.88 L260.65,489.88 L260.90,489.88 L261.15,489.88 L261.40,489.89 L261.65,489.89 L261.90,489.89 L262.15,489.89 L262.40,489.89 L262.65,489.89 L262.90,489.89 L263.15,489.89 L263.40,489.89 L263.65,489.89 L263.90,489.89 L264.15,489.89 L264.40,489.90 L264.65,489.90 L264.90,489.90 L265.15,489.90 L265.40,489.90 L265.65,489.90 L265.90,489.90 L266.15,489.90 L266.40,489.90 L266.65,489.90 L266.90,489.90 L267.15,489.90 L267.40,489.90 L267.65,489.90 L267.90,489.90 L268.15,489.90 L268.40,489.90 L268.65,489.90 L268.90,489.90 L269.15,489.90 L269.40,489.90 L269.65,489.90 L269.90,489.90 L270.15,489.90 L270.40,489.90 L270.65,489.90 L270.90,489.90 L271.15,489.90 L271.40,489.90 L271.65,489.90 L271.90,489.90 L272.15,489.90 L272.40,489.90 L272.65,489.90 L272.90,489.90 L273.15,489.90 L273.40,489.90 L273.65,489.90 L273.90,489.90 L274.15,489.90 L274.40,489.90 L274.65,489.90 L274.90,489.90 L275.15,489.90 L275.40,489.90 L275.65,489.90 L275.90,489.90 L276.15,489.90 L276.40,489.90 L276.65,489.90 L276.90,489.90 L277.15,489.90 L277.40,489.90 L277.65,489.90 L277.90,489.90 L278.15,489.90 L278.40,489.90 L278.65,489.90 L278.90,489.90 L279.15,489.90 L279.40,489.90 L279.65,489.90 L279.90,489.90 L280.15,489.90 L280.40,489.90 L280.65,489.90 L280.90,489.90 L281.15,489.90 L281.40,489.90 L281.65,489.90 L281.90,489.90 L282.15,489.90 L282.40,489.90 L282.65,489.90 L282.90,489.90 L283.15,489.90 L283.40,489.90 L283.65,489.90 L283.90,489.90 L284.15,489.90 L284.40,489.90 L284.65,489.90 L284.90,489.90 L285.15,489.90 L285.40,489.90 L285.65,489.90 L285.90,489.90 L286.15,489.90 L286.40,489.90 L286.65,489.90 L286.90,489.90 L287.15,489.90 L287.40,489.90 L287.65,489.90 L287.90,489.90 L288.15,489.90 L288.40,489.90 L288.65,489.90 L288.90,489.90 L289.15,489.90 L289.40,489.90 L289.65,489.90 L289.90,489.90 L290.15,489.90 L290.40,489.90 L290.65,489.90 L290.90,489.90 L291.15,489.90 L291.40,489.90 L291.65,489.90 L291.90,489.90 L292.15,489.90 L292.40,489.90 L292.65,489.90 L292.90,489.90 L293.15,489.90 L293.40,489.90 L293.65,489.90 L293.90,489.90 L294.15,489.90 L294.40,489.90 L294.65,489.90 L294.90,489.90 L295.15,489.90 L295.40,489.90 L295.65,489.90 L295.90,489.90 L296.15,489.90 L296.40,489.90 L296.65,489.90 L296.90,489.90 L297.15,489.90 L297.40,489.90 L297.65,489.90 L297.90,489.90 L298.15,489.90 L298.40,489.90 L298.65,489.90 L298.90,489.90 L299.15,489.90 L299.40,489.90 L299.65,489.90 L299.90,489.90 L300.15,489.90 L300.40,489.90 L300.65,489.90 L300.90,489.90 L301.15,489.90 L301.40,489.90 L301.65,489.90 L301.90,489.90 L302.15,489.90 L302.40,489.90 L302.65,489.90 L302.90,489.90 L303.15,489.90 L303.40,489.90 L303.65,489.90 L303.90,489.90 L304.15,489.90 L304.40,489.90 L304.65,489.90 L304.90,489.90 L305.15,489.90 L305.40,489.90 L305.65,489.90 L305.90,489.90 L306.15,489.90 L306.40,489.90 L306.65,489.90 L306.90,489.90 L307.15,489.90 L307.40,489.90 L307.65,489.90 L307.90,489.90 L308.15,489.90 L308.40,489.90 L308.65,489.90 L308.90,489.90 L309.15,489.90 L309.40,489.90 L309.65,489.90 L309.90,489.90 L310.15,489.90 L310.40,489.90 L310.65,489.90 L310.90,489.90 L311.15,489.90 L311.40,489.90 L311.65,489.90 L311.90,489.90 L312.15,489.90 L312.40,489.90 L312.65,489.90 L312.90,489.90 L313.15,489.90 L313.40,489.90 L313.65,489.90 L313.90,489.90 L314.15,489.90 L314.40,489.90 L314.65,489.90 L314.90,489.90 L315.15,489.90 L315.40,489.90 L315.65,489.90 L315.90,489.90 L316.15,489.90 L316.40,489.90 L316.65,489.90 L316.90,489.90 L317.15,489.90 L317.40,489.90 L317.65,489.90 L317.90,489.90 L318.15,489.90 L318.40,489.90 L318.65,489.90 L318.90,489.90 L319.15,489.90 L319.40,489.90 L319.65,489.90 L319.90,489.90 L320.15,489.90 L320.40,489.90 L320.65,489.90 L320.90,489.90 L321.15,489.90 L321.40,489.90 L321.65,489.90 L321.90,489.90 L322.15,489.90 L322.40,489.90 L322.65,489.90 L322.90,489.90 L323.15,489.90 L323.40,489.90 L323.65,489.90 L323.90,489.90 L324.15,489.90 L324.40,489.90 L324.65,489.90 L324.90,489.90 L325.15,489.90 L325.40,489.90 L325.65,489.90 L325.90,489.90 L326.15,489.90 L326.40,489.90 L326.65,489.90 L326.90,489.90 L327.15,489.90 L327.40,489.90 L327.65,489.90 L327.90,489.90 L328.15,489.90 L328.40,489.90 L328.65,489.90 L328.90,489.90 L329.15,489.90 L329.40,489.90 L329.65,489.90 L329.90,489.90 L330.15,489.90 L330.40,489.90 L330.65,489.90 L330.90,489.90 L331.15,489.90 L331.40,489.90 L331.65,489.90 L331.90,489.90 L332.15,489.90 L332.40,489.90 L332.65,489.90 L332.90,489.90 L333.15,489.90 L333.40,489.90 L333.65,489.90 L333.90,489.90 L334.15,489.90 L334.40,489.90 L334.65,489.90 L334.90,489.90 L335.15,489.90 L335.40,489.90 L335.65,489.90 L335.90,489.90 L336.15,489.90 L336.40,489.90 L336.65,489.90 L336.90,489.90 L337.15,489.90 L337.40,489.90 L337.65,489.90 L337.90,489.90 L338.15,489.90 L338.40,489.90 L338.65,489.90 L338.90,489.90 L339.15,489.90 L339.40,489.90 L339.65,489.90 L339.90,489.90 L340.15,489.90 L340.40,489.90 L340.65,489.90 L340.90,489.90 L341.15,489.90 L341.40,489.90 L341.65,489.90 L341.90,489.90 L342.15,489.90" fill="none" stroke="#ff44ff" stroke-width="1.3" stroke-dasharray="4.5,4.6"/>
<path d="M64.40,489.86 L64.65,489.86 L64.90,489.86 L65.15,489.86 L65.40,489.85 L65.65,489.85 L65.90,489.85 L66.15,489.85 L66.40,489.85 L66.65,489.85 L66.90,489.85 L67.15,489.84 L67.40,489.84 L67.65,489.84 L67.90,489.84 L68.15,489.84 L68.40,489.83 L68.65,489.83 L68.90,489.83 L69.15,489.83 L69.40,489.83 L69.65,489.82 L69.90,489.82 L70.15,489.82 L70.40,489.82 L70.65,489.81 L70.90,489.81 L71.15,489.81 L71.40,489.81 L71.65,489.80 L71.90,489.80 L72.15,489.80 L72.40,489.80 L72.65,489.79 L72.90,489.79 L73.15,489.79 L73.40,489.78 L73.65,489.78 L73.90,489.78 L74.15,489.77 L74.40,489.77 L74.65,489.77 L74.90,489.76 L75.15,489.76 L75.40,489.75 L75.65,489.75 L75.90,489.75 L76.15,489.74 L76.40,489.74 L76.65,489.73 L76.90,489.73 L77.15,489.72 L77.40,489.72 L77.65,489.71 L77.90,489.71 L78.15,489.70 L78.40,489.70 L78.65,489.69 L78.90,489.69 L79.15,489.68 L79.40,489.68 L79.65,489.67 L79.90,489.66 L80.15,489.66 L80.40,489.65 L80.65,489.64 L80.90,489.64 L81.15,489.63 L81.40,489.62 L81.65,489.62 L81.90,489.61 L82.15,489.60 L82.40,489.59 L82.65,489.59 L82.90,489.58 L83.15,489.57 L83.40,489.56 L83.65,489.55 L83.90,489.54 L84.15,489.53 L84.40,489.52 L84.65,489.51 L84.90,489.50 L85.15,489.49 L85.40,489.48 L85.65,489.47 L85.90,489.46 L86.15,489.45 L86.40,489.44 L86.65,489.43 L86.90,489.41 L87.15,489.40 L87.40,489.39 L87.65,489.38 L87.90,489.36 L88.15,489.35 L88.40,489.34 L88.65,489.32 L88.90,489.31 L89.15,489.29 L89.40,489.28 L89.65,489.26 L89.90,489.25 L90.15,489.23 L90.40,489.21 L90.65,489.20 L90.90,489.18 L91.15,489.16 L91.40,489.15 L91.65,489.13 L91.90,489.11 L92.15,489.09 L92.40,489.07 L92.65,489.05 L92.90,489.03 L93.15,489.01 L93.40,488.99 L93.65,488.96 L93.90,488.94 L94.15,488.92 L94.40,488.90 L94.65,488.87 L94.90,488.85 L95.15,488.82 L95.40,488.80 L95.65,488.77 L95.90,488.75 L96.15,488.72 L96.40,488.69 L96.65,488.66 L96.90,488.64 L97.15,488.61 L97.40,488.58 L97.65,488.55 L97.90,488.51 L98.15,488.48 L98.40,488.45 L98.65,488.42 L98.90,488.38 L99.15,488.35 L99.40,488.31 L99.65,488.28 L99.90,488.24 L100.15,488.21 L100.40,488.17 L100.65,488.13 L100.90,488.09 L101.15,488.05 L101.40,488.01 L101.65,487.97 L101.90,487.92 L102.15,487.88 L102.40,487.84 L102.65,487.79 L102.90,487.74 L103.15,487.70 L103.40,487.65 L103.65,487.60 L103.90,487.55 L104.15,487.50 L104.40,487.45 L104.65,487.40 L104.90,487.34 L105.15,487.29 L105.40,487.23 L105.65,487.17 L105.90,487.12 L106.15,487.06 L106.40,487.00 L106.65,486.94 L106.90,486.87 L107.15,486.81 L107.40,486.75 L107.65,486.68 L107.90,486.61 L108.15,486.55 L108.40,486.48 L108.65,486.41 L108.90,486.33 L109.15,486.26 L109.40,486.19 L109.65,486.11 L109.90,486.03 L110.15,485.96 L110.40,485.88 L110.65,485.79 L110.90,485.71 L111.15,485.63 L111.40,485.54 L111.65,485.46 L111.90,485.37 L112.15,485.28 L112.40,485.19 L112.65,485.09 L112.90,485.00 L113.15,484.90 L113.40,484.80 L113.65,484.70 L113.90,484.60 L114.15,484.50 L114.40,484.39 L114.65,484.29 L114.90,484.18 L115.15,484.07 L115.40,483.96 L115.65,483.85 L115.90,483.73 L116.15,483.61 L116.40,483.49 L116.65,483.37 L116.90,483.25 L117.15,483.13 L117.40,483.00 L117.65,482.87 L117.90,482.74 L118.15,482.61 L118.40,482.47 L118.65,482.33 L118.90,482.19 L119.15,482.05 L119.40,481.91 L119.65,481.76 L119.90,481.62 L120.15,481.47 L120.40,481.31 L120.65,481.16 L120.90,481.00 L121.15,480.84 L121.40,480.68 L121.65,480.52 L121.90,480.35 L122.15,480.18 L122.40,480.01 L122.65,479.83 L122.90,479.66 L123.15,479.48 L123.40,479.30 L123.65,479.11 L123.90,478.93 L124.15,478.74 L124.40,478.54 L124.65,478.35 L124.90,478.15 L125.15,477.95 L125.40,477.75 L125.65,477.54 L125.90,477.33 L126.15,477.12 L126.40,476.91 L126.65,476.69 L126.90,476.47 L127.15,476.25 L127.40,476.02 L127.65,475.79 L127.90,475.56 L128.15,475.32 L128.40,475.08 L128.65,474.84 L128.90,474.60 L129.15,474.35 L129.40,474.10 L129.65,473.84 L129.90,473.59 L130.15,473.33 L130.40,473.06 L130.65,472.79 L130.90,472.52 L131.15,472.25 L131.40,471.97 L131.65,471.69 L131.90,471.41 L132.15,471.12 L132.40,470.83 L132.65,470.53 L132.90,470.24 L133.15,469.94 L133.40,469.63 L133.65,469.32 L133.90,469.01 L134.15,468.69 L134.40,468.37 L134.65,468.05 L134.90,467.72 L135.15,467.39 L135.40,467.06 L135.65,466.72 L135.90,466.38 L136.15,466.03 L136.40,465.68 L136.65,465.33 L136.90,464.97 L137.15,464.61 L137.40,464.25 L137.65,463.88 L137.90,463.51 L138.15,463.13 L138.40,462.75 L138.65,462.36 L138.90,461.98 L139.15,461.58 L139.40,461.19 L139.65,460.79 L139.90,460.38 L140.15,459.97 L140.40,459.56 L140.65,459.14 L140.90,458.72 L141.15,458.30 L141.40,457.87 L141.65,457.44 L141.90,457.00 L142.15,456.56 L142.40,456.11 L142.65,455.66 L142.90,455.21 L143.15,454.75 L143.40,454.29 L143.65,453.82 L143.90,453.35 L144.15,452.88 L144.40,452.40 L144.65,451.92 L144.90,451.43 L145.15,450.94 L145.40,450.44 L145.65,449.95 L145.90,449.44 L146.15,448.93 L146.40,448.42 L146.65,447.91 L146.90,447.38 L147.15,446.86 L147.40,446.33 L147.65,445.80 L147.90,445.26 L148.15,444.72 L148.40,444.17 L148.65,443.62 L148.90,443.07 L149.15,442.51 L149.40,441.95 L149.65,441.39 L149.90,440.82 L150.15,440.24 L150.40,439.66 L150.65,439.08 L150.90,438.49 L151.15,437.90 L151.40,437.31 L151.65,436.71 L151.90,436.11 L152.15,435.50 L152.40,434.89 L152.65,434.28 L152.90,433.66 L153.15,433.04 L153.40,432.41 L153.65,431.78 L153.90,431.15 L154.15,430.51 L154.40,429.87 L154.65,429.23 L154.90,428.58 L155.15,427.93 L155.40,427.27 L155.65,426.61 L155.90,425.95 L156.15,425.28 L156.40,424.61 L156.65,423.94 L156.90,423.26 L157.15,422.58 L157.40,421.90 L157.65,421.21 L157.90,420.52 L158.15,419.83 L158.40,419.14 L158.65,418.44 L158.90,417.73 L159.15,417.03 L159.40,416.32 L159.65,415.61 L159.90,414.89 L160.15,414.18 L160.40,413.46 L160.65,412.73 L160.90,412.01 L161.15,411.28 L161.40,410.55 L161.65,409.81 L161.90,409.08 L162.15,408.34 L162.40,407.60 L162.65,406.86 L162.90,406.11 L163.15,405.36 L163.40,404.61 L163.65,403.86 L163.90,403.11 L164.15,402.35 L164.40,401.59 L164.65,400.83 L164.90,400.07 L165.15,399.31 L165.40,398.54 L165.65,397.78 L165.90,397.01 L166.15,396.24 L166.40,395.47 L166.65,394.70 L166.90,393.92 L167.15,393.15 L167.40,392.37 L167.65,391.60 L167.90,390.82 L168.15,390.04 L168.40,389.26 L168.65,388.48 L168.90,387.70 L169.15,386.92 L169.40,386.14 L169.65,385.35 L169.90,384.57 L170.15,383.79 L170.40,383.00 L170.65,382.22 L170.90,381.44 L171.15,380.66 L171.40,379.87 L171.65,379.09 L171.90,378.31 L172.15,377.53 L172.40,376.74 L172.65,375.96 L172.90,375.18 L173.15,374.40 L173.40,373.62 L173.65,372.85 L173.90,372.07 L174.15,371.29 L174.40,370.52 L174.65,369.75 L174.90,368.98 L175.15,368.21 L175.40,367.44 L175.65,366.67 L175.90,365.90 L176.15,365.14 L176.40,364.38 L176.65,363.62 L176.90,362.86 L177.15,362.11 L177.40,361.36 L177.65,360.61 L177.90,359.86 L178.15,359.11 L178.40,358.37 L178.65,357.63 L178.90,356.89 L179.15,356.16 L179.40,355.43 L179.65,354.70 L179.90,353.97 L180.15,353.25 L180.40,352.54 L180.65,351.82 L180.90,351.11 L181.15,350.40 L181.40,349.70 L181.65,349.00 L181.90,348.31 L182.15,347.61 L182.40,346.93 L182.65,346.24 L182.90,345.57 L183.15,344.89 L183.40,344.22 L183.65,343.56 L183.90,342.90 L184.15,342.24 L184.40,341.59 L184.65,340.95 L184.90,340.31 L185.15,339.67 L185.40,339.04 L185.65,338.42 L185.90,337.80 L186.15,337.18 L186.40,336.58 L186.65,335.97 L186.90,335.38 L187.15,334.79 L187.40,334.20 L187.65,333.63 L187.90,333.05 L188.15,332.49 L188.40,331.93 L188.65,331.37 L188.90,330.83 L189.15,330.29 L189.40,329.75 L189.65,329.23 L189.90,328.71 L190.15,328.19 L190.40,327.69 L190.65,327.19 L190.90,326.69 L191.15,326.21 L191.40,325.73 L191.65,325.26 L191.90,324.80 L192.15,324.34 L192.40,323.89 L192.65,323.45 L192.90,323.02 L193.15,322.59 L193.40,322.18 L193.65,321.77 L193.90,321.36 L194.15,320.97 L194.40,320.58 L194.65,320.21 L194.90,319.84 L195.15,319.47 L195.40,319.12 L195.65,318.78 L195.90,318.44 L196.15,318.11 L196.40,317.79 L196.65,317.48 L196.90,317.18 L197.15,316.88 L197.40,316.60 L197.65,316.32 L197.90,316.05 L198.15,315.79 L198.40,315.54 L198.65,315.30 L198.90,315.07 L199.15,314.85 L199.40,314.63 L199.65,314.43 L199.90,314.23 L200.15,314.04 L200.40,313.86 L200.65,313.69 L200.90,313.53 L201.15,313.38 L201.40,313.24 L201.65,313.11 L201.90,312.98 L202.15,312.87 L202.40,312.77 L202.65,312.67 L202.90,312.58 L203.15,312.51 L203.40,312.44 L203.65,312.38 L203.90,312.33 L204.15,312.29 L204.40,312.26 L204.65,312.24 L204.90,312.23 L205.15,312.23 L205.40,312.24 L205.65,312.25 L205.90,312.28 L206.15,312.32 L206.40,312.36 L206.65,312.41 L206.90,312.48 L207.15,312.55 L207.40,312.63 L207.65,312.73 L207.90,312.83 L208.15,312.94 L208.40,313.06 L208.65,313.18 L208.90,313.32 L209.15,313.47 L209.40,313.63 L209.65,313.79 L209.90,313.97 L210.15,314.15 L210.40,314.34 L210.65,314.55 L210.90,314.76 L211.15,314.98 L211.40,315.21 L211.65,315.44 L211.90,315.69 L212.15,315.95 L212.40,316.21 L212.65,316.48 L212.90,316.76 L213.15,317.06 L213.40,317.35 L213.65,317.66 L213.90,317.98 L214.15,318.30 L214.40,318.64 L214.65,318.98 L214.90,319.33 L215.15,319.69 L215.40,320.05 L215.65,320.43 L215.90,320.81 L216.15,321.20 L216.40,321.60 L216.65,322.00 L216.90,322.42 L217.15,322.84 L217.40,323.27 L217.65,323.71 L217.90,324.15 L218.15,324.61 L218.40,325.07 L218.65,325.53 L218.90,326.01 L219.15,326.49 L219.40,326.98 L219.65,327.48 L219.90,327.98 L220.15,328.49 L220.40,329.01 L220.65,329.53 L220.90,330.06 L221.15,330.60 L221.40,331.15 L221.65,331.70 L221.90,332.25 L222.15,332.82 L222.40,333.39 L222.65,333.96 L222.90,334.55 L223.15,335.13 L223.40,335.73 L223.65,336.33 L223.90,336.93 L224.15,337.54 L224.40,338.16 L224.65,338.78 L224.90,339.41 L225.15,340.04 L225.40,340.68 L225.65,341.32 L225.90,341.97 L226.15,342.63 L226.40,343.28 L226.65,343.95 L226.90,344.61 L227.15,345.29 L227.40,345.96 L227.65,346.64 L227.90,347.33 L228.15,348.02 L228.40,348.71 L228.65,349.41 L228.90,350.11 L229.15,350.82 L229.40,351.53 L229.65,352.24 L229.90,352.96 L230.15,353.68 L230.40,354.40 L230.65,355.13 L230.90,355.85 L231.15,356.59 L231.40,357.32 L231.65,358.06 L231.90,358.80 L232.15,359.55 L232.40,360.29 L232.65,361.04 L232.90,361.80 L233.15,362.55 L233.40,363.31 L233.65,364.07 L233.90,364.83 L234.15,365.59 L234.40,366.35 L234.65,367.12 L234.90,367.89 L235.15,368.66 L235.40,369.43 L235.65,370.20 L235.90,370.97 L236.15,371.75 L236.40,372.53 L236.65,373.30 L236.90,374.08 L237.15,374.86 L237.40,375.64 L237.65,376.42 L237.90,377.20 L238.15,377.98 L238.40,378.77 L238.65,379.55 L238.90,380.33 L239.15,381.11 L239.40,381.90 L239.65,382.68 L239.90,383.46 L240.15,384.25 L240.40,385.03 L240.65,385.81 L240.90,386.59 L241.15,387.37 L241.40,388.16 L241.65,388.94 L241.90,389.72 L242.15,390.50 L242.40,391.27 L242.65,392.05 L242.90,392.83 L243.15,393.60 L243.40,394.38 L243.65,395.15 L243.90,395.92 L244.15,396.69 L244.40,397.46 L244.65,398.23 L244.90,398.99 L245.15,399.76 L245.40,400.52 L245.65,401.28 L245.90,402.04 L246.15,402.79 L246.40,403.55 L246.65,404.30 L246.90,405.05 L247.15,405.80 L247.40,406.55 L247.65,407.29 L247.90,408.03 L248.15,408.77 L248.40,409.51 L248.65,410.24 L248.90,410.98 L249.15,411.71 L249.40,412.43 L249.65,413.16 L249.90,413.88 L250.15,414.60 L250.40,415.31 L250.65,416.02 L250.90,416.73 L251.15,417.44 L251.40,418.15 L251.65,418.85 L251.90,419.54 L252.15,420.24 L252.40,420.93 L252.65,421.62 L252.90,422.30 L253.15,422.98 L253.40,423.66 L253.65,424.34 L253.90,425.01 L254.15,425.67 L254.40,426.34 L254.65,427.00 L254.90,427.66 L255.15,428.31 L255.40,428.96 L255.65,429.60 L255.90,430.25 L256.15,430.89 L256.40,431.52 L256.65,432.15 L256.90,432.78 L257.15,433.40 L257.40,434.02 L257.65,434.64 L257.90,435.25 L258.15,435.86 L258.40,436.46 L258.65,437.06 L258.90,437.66 L259.15,438.25 L259.40,438.84 L259.65,439.42 L259.90,440.00 L260.15,440.58 L260.40,441.15 L260.65,441.72 L260.90,442.28 L261.15,442.84 L261.40,443.40 L261.65,443.95 L261.90,444.49 L262.15,445.04 L262.40,445.58 L262.65,446.11 L262.90,446.64 L263.15,447.17 L263.40,447.69 L263.65,448.21 L263.90,448.72 L264.15,449.23 L264.40,449.74 L264.65,450.24 L264.90,450.74 L265.15,451.23 L265.40,451.72 L265.65,452.20 L265.90,452.68 L266.15,453.16 L266.40,453.63 L266.65,454.10 L266.90,454.56 L267.15,455.02 L267.40,455.48 L267.65,455.93 L267.90,456.37 L268.15,456.82 L268.40,457.26 L268.65,457.69 L268.90,458.12 L269.15,458.55 L269.40,458.97 L269.65,459.39 L269.90,459.80 L270.15,460.21 L270.40,460.62 L270.65,461.02 L270.90,461.42 L271.15,461.81 L271.40,462.20 L271.65,462.59 L271.90,462.97 L272.15,463.35 L272.40,463.72 L272.65,464.09 L272.90,464.46 L273.15,464.82 L273.40,465.18 L273.65,465.54 L273.90,465.89 L274.15,466.24 L274.40,466.58 L274.65,466.92 L274.90,467.25 L275.15,467.59 L275.40,467.91 L275.65,468.24 L275.90,468.56 L276.15,468.88 L276.40,469.19 L276.65,469.50 L276.90,469.81 L277.15,470.11 L277.40,470.41 L277.65,470.71 L277.90,471.00 L278.15,471.29 L278.40,471.57 L278.65,471.86 L278.90,472.14 L279.15,472.41 L279.40,472.68 L279.65,472.95 L279.90,473.22 L280.15,473.48 L280.40,473.74 L280.65,473.99 L280.90,474.25 L281.15,474.50 L281.40,474.74 L281.65,474.98 L281.90,475.22 L282.15,475.46 L282.40,475.69 L282.65,475.92 L282.90,476.15 L283.15,476.38 L283.40,476.60 L283.65,476.82 L283.90,477.03 L284.15,477.25 L284.40,477.46 L284.65,477.66 L284.90,477.87 L285.15,478.07 L285.40,478.27 L285.65,478.46 L285.90,478.66 L286.15,478.85 L286.40,479.04 L286.65,479.22 L286.90,479.40 L287.15,479.58 L287.40,479.76 L287.65,479.94 L287.90,480.11 L288.15,480.28 L288.40,480.45 L288.65,480.61 L288.90,480.77 L289.15,480.94 L289.40,481.09 L289.65,481.25 L289.90,481.40 L290.15,481.55 L290.40,481.70 L290.65,481.85 L290.90,481.99 L291.15,482.14 L291.40,482.28 L291.65,482.41 L291.90,482.55 L292.15,482.68 L292.40,482.82 L292.65,482.95 L292.90,483.07 L293.15,483.20 L293.40,483.32 L293.65,483.44 L293.90,483.56 L294.15,483.68 L294.40,483.80 L294.65,483.91 L294.90,484.02 L295.15,484.14 L295.40,484.24 L295.65,484.35 L295.90,484.46 L296.15,484.56 L296.40,484.66 L296.65,484.76 L296.90,484.86 L297.15,484.96 L297.40,485.05 L297.65,485.15 L297.90,485.24 L298.15,485.33 L298.40,485.42 L298.65,485.51 L298.90,485.59 L299.15,485.68 L299.40,485.76 L299.65,485.84 L299.90,485.92 L300.15,486.00 L300.40,486.08 L300.65,486.16 L300.90,486.23 L301.15,486.30 L301.40,486.38 L301.65,486.45 L301.90,486.52 L302.15,486.59 L302.40,486.65 L302.65,486.72 L302.90,486.78 L303.15,486.85 L303.40,486.91 L303.65,486.97 L303.90,487.03 L304.15,487.09 L304.40,487.15 L304.65,487.21 L304.90,487.26 L305.15,487.32 L305.40,487.37 L305.65,487.43 L305.90,487.48 L306.15,487.53 L306.40,487.58 L306.65,487.63 L306.90,487.68 L307.15,487.72 L307.40,487.77 L307.65,487.82 L307.90,487.86 L308.15,487.91 L308.40,487.95 L308.65,487.99 L308.90,488.03 L309.15,488.07 L309.40,488.11 L309.65,488.15 L309.90,488.19 L310.15,488.23 L310.40,488.26 L310.65,488.30 L310.90,488.34 L311.15,488.37 L311.40,488.40 L311.65,488.44 L311.90,488.47 L312.15,488.50 L312.40,488.53 L312.65,488.56 L312.90,488.59 L313.15,488.62 L313.40,488.65 L313.65,488.68 L313.90,488.71 L314.15,488.74 L314.40,488.76 L314.65,488.79 L314.90,488.81 L315.15,488.84 L315.40,488.86 L315.65,488.89 L315.90,488.91 L316.15,488.93 L316.40,488.96 L316.65,488.98 L316.90,489.00 L317.15,489.02 L317.40,489.04 L317.65,489.06 L317.90,489.08 L318.15,489.10 L318.40,489.12 L318.65,489.14 L318.90,489.16 L319.15,489.17 L319.40,489.19 L319.65,489.21 L319.90,489.22 L320.15,489.24 L320.40,489.26 L320.65,489.27 L320.90,489.29 L321.15,489.30 L321.40,489.32 L321.65,489.33 L321.90,489.34 L322.15,489.36 L322.40,489.37 L322.65,489.38 L322.90,489.40 L323.15,489.41 L323.40,489.42 L323.65,489.43 L323.90,489.44 L324.15,489.46 L324.40,489.47 L324.65,489.48 L324.90,489.49 L325.15,489.50 L325.40,489.51 L325.65,489.52 L325.90,489.53 L326.15,489.54 L326.40,489.55 L326.65,489.56 L326.90,489.56 L327.15,489.57 L327.40,489.58 L327.65,489.59 L327.90,489.60 L328.15,489.61 L328.40,489.61 L328.65,489.62 L328.90,489.63 L329.15,489.63 L329.40,489.64 L329.65,489.65 L329.90,489.66 L330.15,489.66 L330.40,489.67 L330.65,489.67 L330.90,489.68 L331.15,489.69 L331.40,489.69 L331.65,489.70 L331.90,489.70 L332.15,489.71 L332.40,489.71 L332.65,489.72 L332.90,489.72 L333.15,489.73 L333.40,489.73 L333.65,489.74 L333.90,489.74 L334.15,489.75 L334.40,489.75 L334.65,489.75 L334.90,489.76 L335.15,489.76 L335.40,489.76 L335.65,489.77 L335.90,489.77 L336.15,489.78 L336.40,489.78 L336.65,489.78 L336.90,489.79 L337.15,489.79 L337.40,489.79 L337.65,489.80 L337.90,489.80 L338.15,489.80 L338.40,489.80 L338.65,489.81 L338.90,489.81 L339.15,489.81 L339.40,489.81 L339.65,489.82 L339.90,489.82 L340.15,489.82 L340.40,489.82 L340.65,489.83 L340.90,489.83 L341.15,489.83 L341.40,489.83 L341.65,489.83 L341.90,489.84 L342.15,489.84" fill="none" stroke="#ff1a1a" stroke-width="1.2"/>
<path d="M60.93,486.33L68.13,493.13M60.93,493.13L68.13,486.33" stroke="#ff0000" stroke-width="1.5"/>
<path d="M82.82,485.19L90.02,491.99M82.82,491.99L90.02,485.19" stroke="#ff0000" stroke-width="1.5"/>
<path d="M104.72,482.91L111.92,489.71M104.72,489.71L111.92,482.91" stroke="#ff0000" stroke-width="1.5"/>
<path d="M126.61,469.88L133.81,476.68M126.61,476.68L133.81,469.88" stroke="#ff0000" stroke-width="1.5"/>
<path d="M148.50,438.04L155.70,444.84M148.50,444.84L155.70,438.04" stroke="#ff0000" stroke-width="1.5"/>
<path d="M170.40,356.42L177.60,363.22M170.40,363.22L177.60,356.42" stroke="#ff0000" stroke-width="1.5"/>
<path d="M192.29,320.73L199.49,327.53M192.29,327.53L199.49,320.73" stroke="#ff0000" stroke-width="1.5"/>
<path d="M214.19,325.19L221.39,331.99M214.19,331.99L221.39,325.19" stroke="#ff0000" stroke-width="1.5"/>
<path d="M236.08,368.23L243.28,375.03M236.08,375.03L243.28,368.23" stroke="#ff0000" stroke-width="1.5"/>
<path d="M257.97,445.82L265.17,452.62M257.97,452.62L265.17,445.82" stroke="#ff0000" stroke-width="1.5"/>
<path d="M279.87,478.19L287.07,484.99M279.87,484.99L287.07,478.19" stroke="#ff0000" stroke-width="1.5"/>
<path d="M301.76,483.70L308.96,490.50M301.76,490.50L308.96,483.70" stroke="#ff0000" stroke-width="1.5"/>
<path d="M323.66,484.93L330.86,491.73M323.66,491.73L330.86,484.93" stroke="#ff0000" stroke-width="1.5"/>
<path d="M56.9,275.8h23.5" stroke="#ffaa66" stroke-width="1.3" stroke-dasharray="4.5,4.6"/>
<path d="M56.9,290.9h23.5" stroke="#55ee55" stroke-width="1.3" stroke-dasharray="4.5,4.6"/>
<path d="M56.9,305.9h23.5" stroke="#ff66ff" stroke-width="1.3" stroke-dasharray="4.5,4.6"/>
<path d="M67.60,317.70L74.80,324.50M67.60,324.50L74.80,317.70" stroke="#ff0000" stroke-width="1.5"/>
<path d="M56.9,336.0h28.0" stroke="#ff1a1a" stroke-width="1.2"/>
<g font-family='"Liberation Sans", sans-serif' font-size="12.2" fill="#000">
<text x="85.0" y="279.60">Temperature-gradient effect</text>
<text x="85.0" y="294.93">Sample-thickness effect</text>
<text x="85.0" y="310.26">Instrumental effect</text>
<text x="85.0" y="325.59">Measured peak</text>
<text x="85.0" y="340.92">Voigt peak fitting</text>
</g>
<rect x="383.8" y="266.9" width="292.40000000000003" height="234.90000000000003" fill="none" stroke="#3a3a3a" stroke-width="1.1"/>
<path d="M383.8,501.80h4.3 M383.8,480.48h2.4 M383.8,459.15h4.3 M383.8,437.83h2.4 M383.8,416.50h4.3 M383.8,395.18h2.4 M383.8,373.85h4.3 M383.8,352.52h2.4 M383.8,331.20h4.3 M383.8,309.88h2.4 M383.8,288.55h4.3 M413.31,501.8v-2.5 M442.52,501.8v-4.5 M471.73,501.8v-2.5 M500.94,501.8v-4.5 M530.15,501.8v-2.5 M559.36,501.8v-4.5 M588.57,501.8v-2.5 M617.78,501.8v-4.5 M646.99,501.8v-2.5" stroke="#3a3a3a" stroke-width="1.1" fill="none"/>
<g font-family='"Liberation Sans", sans-serif' font-size="12.2" fill="#000">
<text x="379.0" y="505.60" text-anchor="end">2</text>
<text x="379.0" y="462.95" text-anchor="end">3</text>
<text x="379.0" y="420.30" text-anchor="end">4</text>
<text x="379.0" y="377.65" text-anchor="end">5</text>
<text x="379.0" y="335.00" text-anchor="end">6</text>
<text x="379.0" y="292.35" text-anchor="end">7</text>
<text x="384.10" y="516.6" text-anchor="middle">0.1</text>
<text x="442.52" y="516.6" text-anchor="middle">0.2</text>
<text x="500.94" y="516.6" text-anchor="middle">0.3</text>
<text x="559.36" y="516.6" text-anchor="middle">0.4</text>
<text x="617.78" y="516.6" text-anchor="middle">0.5</text>
<text x="676.20" y="516.6" text-anchor="middle">0.6</text>
</g>
<text font-family='"Liberation Sans", sans-serif' font-size="13.3" fill="#000" x="529.3" y="534.4" text-anchor="middle">gC<tspan font-size="9.4" dy="-6.2">0.5</tspan><tspan dy="6.2">( Å</tspan><tspan font-size="9.4" dy="-6.2">-1</tspan><tspan dy="6.2">)</tspan></text>
<text font-family='"Liberation Sans", sans-serif' font-size="13.05" fill="#000" transform="translate(365.7,386.4) rotate(-90)" text-anchor="middle">FWHM ( ×10<tspan font-size="9.4" dy="-6.2">-4</tspan><tspan dy="6.2">rad)</tspan></text>
<text font-family='"Liberation Sans", sans-serif' font-size="22.8" x="354.9" y="278.8" stroke="#000" stroke-width="0.35">c</text>
<path d="M427.0,467.4L650.8,319.0" stroke="#ff2020" stroke-width="1.1"/>
<path d="M444.1,480.4L640.0,370.1" stroke="#2020ff" stroke-width="1.1"/>
<rect x="424.50" y="448.02" width="5.2" height="5.2" fill="#f00"/>
<path d="M493.17,433.69V440.26M490.17,433.69h6M490.17,440.26h6" stroke="#f00" stroke-width="1"/>
<rect x="490.57" y="434.37" width="5.2" height="5.2" fill="#f00"/>
<path d="M511.86,431.85V433.56M508.86,431.85h6M508.86,433.56h6" stroke="#f00" stroke-width="1"/>
<rect x="509.26" y="430.11" width="5.2" height="5.2" fill="#f00"/>
<rect x="526.21" y="380.21" width="5.2" height="5.2" fill="#f00"/>
<rect x="565.52" y="380.21" width="5.2" height="5.2" fill="#f00"/>
<path d="M648.28,299.00V305.40M645.28,299.00h6M645.28,305.40h6" stroke="#f00" stroke-width="1"/>
<rect x="645.68" y="299.60" width="5.2" height="5.2" fill="#f00"/>
<path d="M650.67,322.67V332.05M647.67,322.67h6M647.67,332.05h6" stroke="#f00" stroke-width="1"/>
<rect x="648.07" y="324.76" width="5.2" height="5.2" fill="#f00"/>
<path d="M444.27,465.12V471.94M441.27,465.12h6M441.27,471.94h6" stroke="#00f" stroke-width="1"/>
<circle cx="444.27" cy="468.53" r="2.9" fill="#00f"/>
<path d="M531.03,434.84V439.10M528.03,434.84h6M528.03,439.10h6" stroke="#00f" stroke-width="1"/>
<circle cx="531.03" cy="436.97" r="2.9" fill="#00f"/>
<path d="M530.27,442.60V457.79M527.27,442.60h6M527.27,457.79h6" stroke="#00f" stroke-width="1"/>
<circle cx="530.27" cy="450.19" r="2.9" fill="#00f"/>
<path d="M563.04,404.13V412.66M560.04,404.13h6M560.04,412.66h6" stroke="#00f" stroke-width="1"/>
<circle cx="563.04" cy="408.40" r="2.9" fill="#00f"/>
<path d="M639.57,358.62V366.05M636.57,358.62h6M636.57,366.05h6" stroke="#00f" stroke-width="1"/>
<circle cx="639.57" cy="362.33" r="2.9" fill="#00f"/>
<rect x="401.7" y="278.6" width="113.9" height="62.1" fill="#fff" stroke="#3a3a3a" stroke-width="1"/>
<rect x="414.6" y="284.6" width="5.1" height="5" fill="#f00"/>
<circle cx="417.2" cy="302.2" r="2.9" fill="#00f"/>
<path d="M403,317.3h27.8" stroke="#ff2020" stroke-width="1.1"/>
<path d="M403,332.3h27.8" stroke="#2020ff" stroke-width="1.1"/>
<g font-family='"Liberation Sans", sans-serif' font-size="12.2" fill="#000">
<text x="430.8" y="291.20">FCC</text>
<text x="430.8" y="306.20">BCC</text>
<text x="430.8" y="321.20">Linear fit_FCC</text>
<text x="430.8" y="336.20">Linear fit_BCC</text>
</g>
</svg>
</body></html>
